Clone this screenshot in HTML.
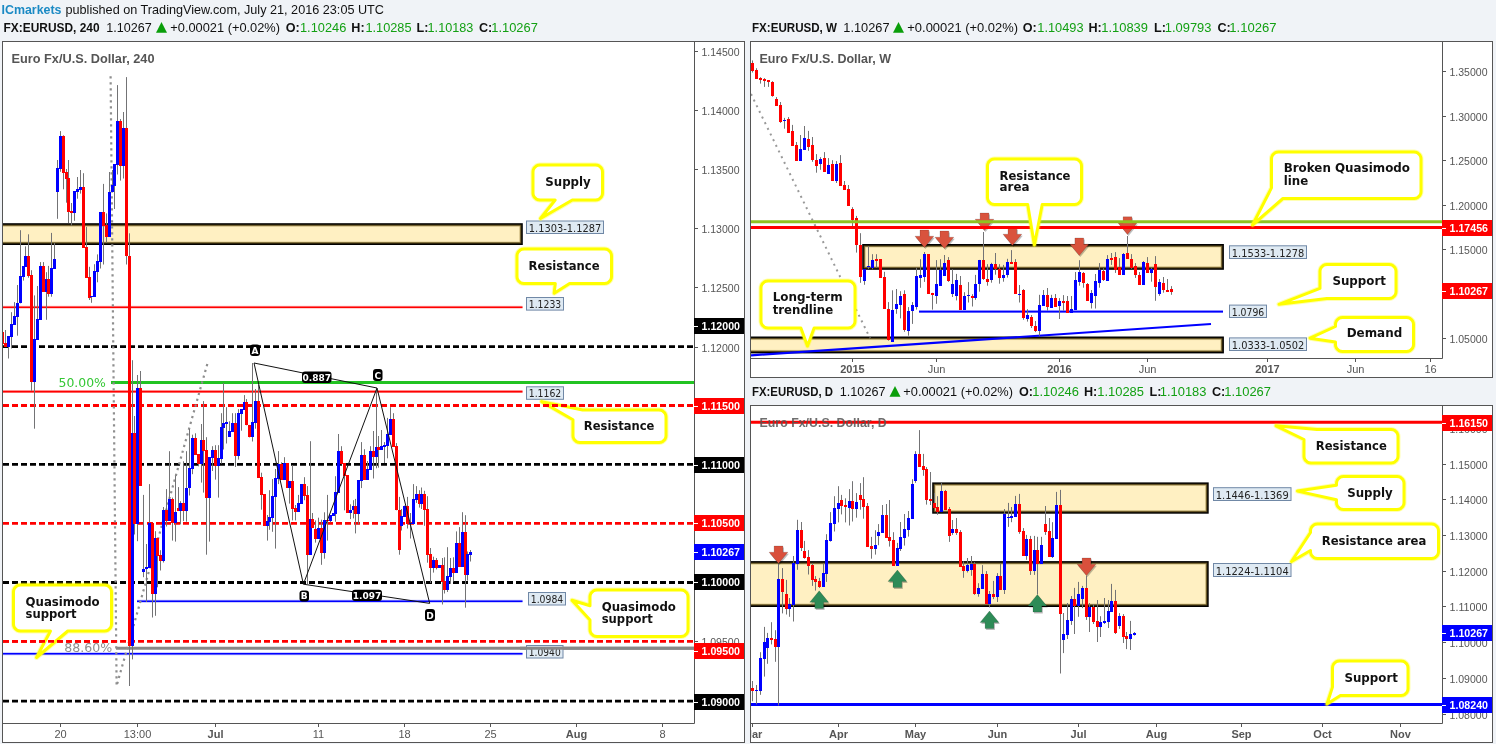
<!DOCTYPE html>
<html lang="en"><head><meta charset="utf-8"><title>EURUSD - ICmarkets published on TradingView.com</title>
<style>html,body{margin:0;padding:0;background:#f0f3f7;overflow:hidden}svg text{white-space:pre}</style></head>
<body>
<svg width="1496" height="744" viewBox="0 0 1496 744" style="display:block">
<rect width="1496" height="744" fill="#f0f3f7"/>
<text x="1.5" y="14" font-size="12.6" fill="#1b8ac4" font-family="'Liberation Sans', sans-serif" font-weight="bold" textLength="60" lengthAdjust="spacingAndGlyphs">ICmarkets</text>
<text x="65.5" y="14" font-size="12.6" fill="#111" font-family="'Liberation Sans', sans-serif" textLength="318.5" lengthAdjust="spacingAndGlyphs">published on TradingView.com, July 21, 2016 23:05 UTC</text>
<text x="3.6" y="32" font-size="12.6" fill="#111" font-family="'Liberation Sans', sans-serif" font-weight="bold" textLength="96.0" lengthAdjust="spacingAndGlyphs">FX:EURUSD, 240</text>
<text x="106.3" y="32" font-size="12.6" fill="#111" font-family="'Liberation Sans', sans-serif" textLength="45.39999999999999" lengthAdjust="spacingAndGlyphs">1.10267</text>
<path d="M156 32.8L161.5 22L167 32.8Z" fill="#0a9e0a"/>
<text x="170.3" y="32" font-size="12.6" fill="#111" font-family="'Liberation Sans', sans-serif" textLength="109.69999999999999" lengthAdjust="spacingAndGlyphs">+0.00021 (+0.02%)</text>
<text x="285.7" y="32" font-size="12.6" fill="#111" font-family="'Liberation Sans', sans-serif" font-weight="bold">O:</text>
<text x="300" y="32" font-size="12.6" fill="#13a013" font-family="'Liberation Sans', sans-serif" textLength="46.30000000000001" lengthAdjust="spacingAndGlyphs">1.10246</text>
<text x="351.3" y="32" font-size="12.6" fill="#111" font-family="'Liberation Sans', sans-serif" font-weight="bold">H:</text>
<text x="365.5" y="32" font-size="12.6" fill="#13a013" font-family="'Liberation Sans', sans-serif" textLength="46.0" lengthAdjust="spacingAndGlyphs">1.10285</text>
<text x="416.5" y="32" font-size="12.6" fill="#111" font-family="'Liberation Sans', sans-serif" font-weight="bold">L:</text>
<text x="427.6" y="32" font-size="12.6" fill="#13a013" font-family="'Liberation Sans', sans-serif" textLength="45.69999999999999" lengthAdjust="spacingAndGlyphs">1.10183</text>
<text x="479" y="32" font-size="12.6" fill="#111" font-family="'Liberation Sans', sans-serif" font-weight="bold">C:</text>
<text x="491.3" y="32" font-size="12.6" fill="#13a013" font-family="'Liberation Sans', sans-serif" textLength="46.49999999999994" lengthAdjust="spacingAndGlyphs">1.10267</text>
<text x="752" y="32" font-size="12.6" fill="#111" font-family="'Liberation Sans', sans-serif" font-weight="bold" textLength="85" lengthAdjust="spacingAndGlyphs">FX:EURUSD, W</text>
<text x="843.3" y="32" font-size="12.6" fill="#111" font-family="'Liberation Sans', sans-serif" textLength="46.200000000000045" lengthAdjust="spacingAndGlyphs">1.10267</text>
<path d="M893 32.8L898.5 22L904 32.8Z" fill="#0a9e0a"/>
<text x="907.3" y="32" font-size="12.6" fill="#111" font-family="'Liberation Sans', sans-serif" textLength="110.70000000000005" lengthAdjust="spacingAndGlyphs">+0.00021 (+0.02%)</text>
<text x="1022.8" y="32" font-size="12.6" fill="#111" font-family="'Liberation Sans', sans-serif" font-weight="bold">O:</text>
<text x="1037.3" y="32" font-size="12.6" fill="#13a013" font-family="'Liberation Sans', sans-serif" textLength="46.200000000000045" lengthAdjust="spacingAndGlyphs">1.10493</text>
<text x="1088.5" y="32" font-size="12.6" fill="#111" font-family="'Liberation Sans', sans-serif" font-weight="bold">H:</text>
<text x="1101.3" y="32" font-size="12.6" fill="#13a013" font-family="'Liberation Sans', sans-serif" textLength="46.700000000000045" lengthAdjust="spacingAndGlyphs">1.10839</text>
<text x="1154" y="32" font-size="12.6" fill="#111" font-family="'Liberation Sans', sans-serif" font-weight="bold">L:</text>
<text x="1164.8" y="32" font-size="12.6" fill="#13a013" font-family="'Liberation Sans', sans-serif" textLength="46.700000000000045" lengthAdjust="spacingAndGlyphs">1.09793</text>
<text x="1217.5" y="32" font-size="12.6" fill="#111" font-family="'Liberation Sans', sans-serif" font-weight="bold">C:</text>
<text x="1229.3" y="32" font-size="12.6" fill="#13a013" font-family="'Liberation Sans', sans-serif" textLength="47.200000000000045" lengthAdjust="spacingAndGlyphs">1.10267</text>
<text x="752" y="396" font-size="12.6" fill="#111" font-family="'Liberation Sans', sans-serif" font-weight="bold" textLength="81" lengthAdjust="spacingAndGlyphs">FX:EURUSD, D</text>
<text x="839.8" y="396" font-size="12.6" fill="#111" font-family="'Liberation Sans', sans-serif" textLength="45.700000000000045" lengthAdjust="spacingAndGlyphs">1.10267</text>
<path d="M889.5 396.8L895.0 386L900.5 396.8Z" fill="#0a9e0a"/>
<text x="903.3" y="396" font-size="12.6" fill="#111" font-family="'Liberation Sans', sans-serif" textLength="109.70000000000005" lengthAdjust="spacingAndGlyphs">+0.00021 (+0.02%)</text>
<text x="1019" y="396" font-size="12.6" fill="#111" font-family="'Liberation Sans', sans-serif" font-weight="bold">O:</text>
<text x="1032.3" y="396" font-size="12.6" fill="#13a013" font-family="'Liberation Sans', sans-serif" textLength="46.700000000000045" lengthAdjust="spacingAndGlyphs">1.10246</text>
<text x="1084" y="396" font-size="12.6" fill="#111" font-family="'Liberation Sans', sans-serif" font-weight="bold">H:</text>
<text x="1097.3" y="396" font-size="12.6" fill="#13a013" font-family="'Liberation Sans', sans-serif" textLength="46.700000000000045" lengthAdjust="spacingAndGlyphs">1.10285</text>
<text x="1149.5" y="396" font-size="12.6" fill="#111" font-family="'Liberation Sans', sans-serif" font-weight="bold">L:</text>
<text x="1159.8" y="396" font-size="12.6" fill="#13a013" font-family="'Liberation Sans', sans-serif" textLength="46.700000000000045" lengthAdjust="spacingAndGlyphs">1.10183</text>
<text x="1212" y="396" font-size="12.6" fill="#111" font-family="'Liberation Sans', sans-serif" font-weight="bold">C:</text>
<text x="1224.3" y="396" font-size="12.6" fill="#13a013" font-family="'Liberation Sans', sans-serif" textLength="46.700000000000045" lengthAdjust="spacingAndGlyphs">1.10267</text>
<rect x="2.5" y="41.5" width="742" height="701" fill="#fff" stroke="#555555"/>
<clipPath id="cl"><rect x="3" y="42" width="691" height="681"/></clipPath>
<g clip-path="url(#cl)">
<text x="11.5" y="63" font-size="12.6" fill="#555" font-family="'Liberation Sans', sans-serif" font-weight="bold" textLength="143" lengthAdjust="spacingAndGlyphs">Euro Fx/U.S. Dollar, 240</text>
<rect x="-3" y="223.2" width="525.8" height="21.80000000000001" fill="#000"/>
<rect x="-1.6" y="224.6" width="523.0" height="19.00000000000001" fill="#4a3a12"/>
<rect x="-0.7000000000000002" y="225.5" width="521.1999999999999" height="17.20000000000001" fill="#9c8a52"/>
<rect x="0.0" y="226.2" width="519.8" height="15.800000000000011" fill="#e4d39b"/>
<rect x="0.6000000000000001" y="226.79999999999998" width="518.5999999999999" height="14.600000000000012" fill="#fff0c2"/>
<path d="M3 307.2H522.5" stroke="#ff0000" stroke-width="1.6" fill="none"/>
<path d="M3 307.2H522.5" stroke="#ff0000" stroke-width="3" fill="none" stroke-opacity="0.25"/>
<path d="M3 391.6H522.5" stroke="#ff0000" stroke-width="1.6" fill="none"/>
<path d="M3 391.6H522.5" stroke="#ff0000" stroke-width="3" fill="none" stroke-opacity="0.25"/>
<path d="M111 382.5H694" stroke="#22c322" stroke-width="3" fill="none"/>
<path d="M137 601.3H522.5" stroke="#0000ff" stroke-width="1.6" fill="none"/>
<path d="M137 601.3H522.5" stroke="#0000ff" stroke-width="3" fill="none" stroke-opacity="0.25"/>
<path d="M3 653.8H522.5" stroke="#0000ff" stroke-width="1.6" fill="none"/>
<path d="M3 653.8H522.5" stroke="#0000ff" stroke-width="3" fill="none" stroke-opacity="0.25"/>
<path d="M116 648.2H694" stroke="#888" stroke-width="3" fill="none"/>
<path d="M3 346.6H694" stroke="#000" stroke-width="2.8" fill="none" stroke-dasharray="6 3"/>
<path d="M3 464.4H694" stroke="#000" stroke-width="2.8" fill="none" stroke-dasharray="6 3"/>
<path d="M3 582.5H694" stroke="#000" stroke-width="2.8" fill="none" stroke-dasharray="6 3"/>
<path d="M3 701.1H694" stroke="#000" stroke-width="2.8" fill="none" stroke-dasharray="6 3"/>
<path d="M3 405.5H694" stroke="#ff0000" stroke-width="2.8" fill="none" stroke-dasharray="6 3"/>
<path d="M3 523.4H694" stroke="#ff0000" stroke-width="2.8" fill="none" stroke-dasharray="6 3"/>
<path d="M3 641.3H694" stroke="#ff0000" stroke-width="2.8" fill="none" stroke-dasharray="6 3"/>
<path d="M110.6 76.3L116.6 686L208.3 360.5" stroke="#8e8e8e" stroke-width="2.2" stroke-dasharray="2.2 3.8" fill="none"/>
<path d="M2.5 332V343.5M5.5 330V347.1M8.5 336.1V358.5M11.5 312.2V348.5M14.5 302.1V325M17.5 285V335.7M20.5 230.2V303.4M23.5 266.1V280.6M25.5 246.4V266.8M28.5 234.3V277.7M31.5 270.2V390.8M34.5 295.4V428.7M37.5 286V339.7M40.5 262.1V319.8M43.5 262.1V291.8M46.5 272.2V319.8M48.5 265.9V296.7M51.5 232.9V296.7M54.5 243V268.5M57.5 160V218.8M60.5 131.1V171.8M63.5 135.3V189.3M66.5 169V202.7M68.5 160V223.1M71.5 203V225.5M74.5 191V220.8M77.5 177V198.7M80.5 170V193.6M83.5 173.2V247.7M86.5 226.9V277.7M89.5 266.8V300M91.5 296V302.8M94.5 264.2V296.7M97.5 254.4V282.3M100.5 212.1V268.5M103.5 183.9V264.5M106.5 213.4V242.7M109.5 172V236.6M112.5 170V192.3M114.5 164.2V209M117.5 85.1V174.5M120.5 119.1V180.6M123.5 112V178.5M126.5 77.1V264.5M129.5 233.3V686M132.5 360.2V659.4M134.5 416V534.5M137.5 375V541.2M140.5 371V485.5M143.5 494.9V577.2M146.5 544V602M149.5 484.1V568.1M152.5 523.1V617.5M155.5 531.2V615.8M157.5 538.1V587.3M160.5 550.2V570.5M163.5 507V562.5M166.5 489.1V526.5M169.5 451.2V520.8M172.5 497.6V540.6M175.5 475.4V541.6M178.5 487.1V510.7M180.5 501.2V524.4M183.5 461.3V521.1M186.5 451.2V521.7M189.5 429V495.5M192.5 434.7V474.2M195.5 433.3V454.8M198.5 454.2V466.3M201.5 424V482.6M203.5 401.1V492.6M206.5 437.2V554.7M209.5 457.2V541.6M212.5 446.2V471M215.5 445.2V479.6M218.5 445.2V497.6M221.5 413.2V463.6M223.5 383V449.5M226.5 407.2V443.5M229.5 421.3V436.7M232.5 413.2V432M235.5 413.2V467M238.5 409.2V459.6M241.5 409.2V430.7M244.5 395.1V409.9M246.5 399.1V425.3M249.5 424.9V437.4M252.5 363V441.5M255.5 389V428.7M258.5 384.8V477.7M261.5 472.7V509.7M264.5 494.2V525.8M267.5 515V540.6M269.5 490.2V529.8M272.5 479.1V531.8M275.5 469V548.6M278.5 451.1V484.1M281.5 462.3V479.8M284.5 457.2V479.8M287.5 463V487.6M289.5 481.2V503.6M292.5 465V520.4M295.5 505V520.4M298.5 494.9V511.7M301.5 484.1V503.6M304.5 477.2V500.2M307.5 486.1V584M310.5 441.2V554.9M312.5 513V527.8M315.5 520.4V542.6M318.5 517.7V538.5M321.5 519.7V564.8M324.5 512.3V558.7M327.5 494.9V540.6M330.5 515V522.4M333.5 513V515.7M335.5 476.2V521.7M338.5 434V492.6M341.5 446.2V464.3M344.5 463.4V510.3M347.5 475.1V512.7M350.5 504.3V519.1M353.5 500.2V518.4M355.5 498.9V533.4M358.5 480.1V524.4M361.5 442.1V488.1M364.5 449.2V479.8M367.5 461V479.8M370.5 446.2V469.7M373.5 431V478.5M376.5 389V468.3M378.5 436V467.7M381.5 430V449.8M384.5 442.1V463M387.5 417.9V458.3M390.5 407.2V434.7M393.5 413.2V446.8M396.5 443.1V510.3M399.5 496.9V554.7M401.5 509V530.5M404.5 505.6V516.8M407.5 496.9V528.5M410.5 513V538.5M413.5 484.1V524.2M416.5 486.1V502.9M419.5 490.2V507.6M421.5 487.5V509M424.5 490.8V525.8M427.5 496.2V562.7M430.5 548V583M433.5 556.7V572.6M436.5 558V569.4M439.5 565.3V567.7M442.5 558V604.5M444.5 557.3V593.5M447.5 547.2V592M450.5 558V583.9M453.5 557.3V581.5M456.5 531.4V572.6M459.5 527.1V566.5M462.5 512.2V566.5M465.5 515.2V607.7M467.5 551.5V580.6M470.5 550V561.5" stroke="#737375" stroke-width="1" fill="none"/>
<path d="M1 332h3V343.5h-3ZM4 343.1h3V347.1h-3Z" fill="#ff0000" shape-rendering="crispEdges"/>
<path d="M7 336.1h3V347.1h-3ZM10 324.3h3V336.8h-3ZM13 316.2h3V325h-3ZM16 303h3V316.9h-3ZM19 276.2h3V303.4h-3ZM22 266.1h3V276.9h-3ZM24 256.2h3V266.8h-3Z" fill="#0000ff" shape-rendering="crispEdges"/>
<path d="M27 256.2h3V276h-3ZM30 275.3h3V381.8h-3Z" fill="#ff0000" shape-rendering="crispEdges"/>
<path d="M33 339.1h3V381.8h-3ZM36 319.3h3V339.7h-3ZM39 266.1h3V319.8h-3Z" fill="#0000ff" shape-rendering="crispEdges"/>
<path d="M42 266.1h3V291.8h-3Z" fill="#ff0000" shape-rendering="crispEdges"/>
<path d="M45 279h3V291.8h-3Z" fill="#0000ff" shape-rendering="crispEdges"/>
<path d="M47 279h3V293.7h-3Z" fill="#ff0000" shape-rendering="crispEdges"/>
<path d="M50 268.1h3V293.7h-3ZM53 259.1h3V268.5h-3ZM56 168.1h3V191.7h-3ZM59 136.2h3V168.7h-3Z" fill="#0000ff" shape-rendering="crispEdges"/>
<path d="M62 136.2h3V172.5h-3ZM65 172.1h3V178.5h-3ZM67 178.1h3V211.8h-3ZM70 210.8h3V212.8h-3Z" fill="#ff0000" shape-rendering="crispEdges"/>
<path d="M73 191h3V212.8h-3ZM76 189.3h3V191.7h-3ZM79 187h3V189.6h-3Z" fill="#0000ff" shape-rendering="crispEdges"/>
<path d="M82 187h3V247.7h-3ZM85 247h3V277.7h-3ZM88 277h3V297.7h-3Z" fill="#ff0000" shape-rendering="crispEdges"/>
<path d="M90 296h3V297.4h-3ZM93 271.1h3V296.7h-3ZM96 261.2h3V271.6h-3ZM99 212.1h3V261.8h-3Z" fill="#0000ff" shape-rendering="crispEdges"/>
<path d="M102 212.1h3V225.5h-3ZM105 224.9h3V236.6h-3Z" fill="#ff0000" shape-rendering="crispEdges"/>
<path d="M108 192h3V236.6h-3ZM111 185.3h3V192.3h-3ZM113 164.2h3V186h-3ZM116 121.2h3V164.8h-3Z" fill="#0000ff" shape-rendering="crispEdges"/>
<path d="M119 121.2h3V165.8h-3Z" fill="#ff0000" shape-rendering="crispEdges"/>
<path d="M122 127.9h3V165.8h-3Z" fill="#0000ff" shape-rendering="crispEdges"/>
<path d="M125 127.9h3V255.5h-3ZM128 255.5h3V645.7h-3Z" fill="#ff0000" shape-rendering="crispEdges"/>
<path d="M131 433.1h3V645.7h-3Z" fill="#0000ff" shape-rendering="crispEdges"/>
<path d="M133 433.1h3V523.8h-3Z" fill="#ff0000" shape-rendering="crispEdges"/>
<path d="M136 388.1h3V523.8h-3Z" fill="#0000ff" shape-rendering="crispEdges"/>
<path d="M139 388.1h3V485.5h-3Z" fill="#ff0000" shape-rendering="crispEdges"/>
<path d="M142 569.1h3V571.8h-3ZM145 567.4h3V569.1h-3ZM148 523.1h3V568.1h-3Z" fill="#0000ff" shape-rendering="crispEdges"/>
<path d="M151 523.1h3V594h-3Z" fill="#ff0000" shape-rendering="crispEdges"/>
<path d="M154 538.1h3V594h-3Z" fill="#0000ff" shape-rendering="crispEdges"/>
<path d="M156 538.1h3V555.6h-3ZM159 555.1h3V560.7h-3Z" fill="#ff0000" shape-rendering="crispEdges"/>
<path d="M162 510.1h3V560.7h-3Z" fill="#0000ff" shape-rendering="crispEdges"/>
<path d="M165 510.1h3V520.8h-3Z" fill="#ff0000" shape-rendering="crispEdges"/>
<path d="M168 499.2h3V520.8h-3Z" fill="#0000ff" shape-rendering="crispEdges"/>
<path d="M171 499.2h3V522.8h-3Z" fill="#ff0000" shape-rendering="crispEdges"/>
<path d="M174 511.7h3V522.8h-3Z" fill="#0000ff" shape-rendering="crispEdges"/>
<path d="M177 508.3h3V510.7h-3Z" fill="#ff0000" shape-rendering="crispEdges"/>
<path d="M179 503.2h3V510.7h-3Z" fill="#0000ff" shape-rendering="crispEdges"/>
<path d="M182 503.2h3V510.7h-3Z" fill="#ff0000" shape-rendering="crispEdges"/>
<path d="M185 487.5h3V510.7h-3ZM188 468h3V487.7h-3ZM191 438.1h3V468.5h-3Z" fill="#0000ff" shape-rendering="crispEdges"/>
<path d="M194 438.1h3V454.8h-3ZM197 454.2h3V463.8h-3Z" fill="#ff0000" shape-rendering="crispEdges"/>
<path d="M200 440.1h3V463.6h-3Z" fill="#0000ff" shape-rendering="crispEdges"/>
<path d="M202 440.1h3V450.9h-3ZM205 450.2h3V497.8h-3Z" fill="#ff0000" shape-rendering="crispEdges"/>
<path d="M208 457.2h3V497.8h-3ZM211 450.2h3V457.9h-3Z" fill="#0000ff" shape-rendering="crispEdges"/>
<path d="M214 450.2h3V465.6h-3Z" fill="#ff0000" shape-rendering="crispEdges"/>
<path d="M217 458.3h3V465.6h-3ZM220 427.1h3V458.7h-3ZM222 423.3h3V427.7h-3ZM225 422.2h3V424h-3ZM228 431.4h3V436.7h-3ZM231 423.3h3V432h-3Z" fill="#0000ff" shape-rendering="crispEdges"/>
<path d="M234 423.3h3V455.6h-3Z" fill="#ff0000" shape-rendering="crispEdges"/>
<path d="M237 413.2h3V455.6h-3ZM240 409.2h3V413.6h-3ZM243 402.1h3V409.9h-3Z" fill="#0000ff" shape-rendering="crispEdges"/>
<path d="M245 402.1h3V425.3h-3ZM248 424.9h3V437.4h-3Z" fill="#ff0000" shape-rendering="crispEdges"/>
<path d="M251 422.2h3V437.4h-3ZM254 401.1h3V422.6h-3Z" fill="#0000ff" shape-rendering="crispEdges"/>
<path d="M257 401.1h3V477.7h-3ZM260 477.1h3V494.6h-3ZM263 494.2h3V525.8h-3Z" fill="#ff0000" shape-rendering="crispEdges"/>
<path d="M266 521.1h3V525.8h-3ZM268 517h3V521.7h-3ZM271 496.2h3V517.7h-3ZM274 478.1h3V496.9h-3ZM277 463.9h3V479.1h-3Z" fill="#0000ff" shape-rendering="crispEdges"/>
<path d="M280 463.9h3V479.8h-3Z" fill="#ff0000" shape-rendering="crispEdges"/>
<path d="M283 463h3V479.8h-3Z" fill="#0000ff" shape-rendering="crispEdges"/>
<path d="M286 463h3V487.6h-3Z" fill="#ff0000" shape-rendering="crispEdges"/>
<path d="M288 481.2h3V487.6h-3Z" fill="#0000ff" shape-rendering="crispEdges"/>
<path d="M291 481.2h3V509h-3ZM294 508.3h3V511.7h-3Z" fill="#ff0000" shape-rendering="crispEdges"/>
<path d="M297 503h3V511.7h-3ZM300 484.1h3V503.6h-3Z" fill="#0000ff" shape-rendering="crispEdges"/>
<path d="M303 484.1h3V495.5h-3ZM306 495.1h3V554.9h-3Z" fill="#ff0000" shape-rendering="crispEdges"/>
<path d="M309 519.1h3V554.9h-3Z" fill="#0000ff" shape-rendering="crispEdges"/>
<path d="M311 519.1h3V527.8h-3ZM314 528.7h3V538.5h-3Z" fill="#ff0000" shape-rendering="crispEdges"/>
<path d="M317 528.1h3V538.5h-3Z" fill="#0000ff" shape-rendering="crispEdges"/>
<path d="M320 528.1h3V552.7h-3Z" fill="#ff0000" shape-rendering="crispEdges"/>
<path d="M323 520h3V552.7h-3Z" fill="#0000ff" shape-rendering="crispEdges"/>
<path d="M326 520h3V521.4h-3Z" fill="#ff0000" shape-rendering="crispEdges"/>
<path d="M329 515h3V521.1h-3ZM332 513h3V515.7h-3ZM334 492.2h3V514.1h-3ZM337 450.9h3V492.6h-3Z" fill="#0000ff" shape-rendering="crispEdges"/>
<path d="M340 450.9h3V464.3h-3ZM343 463.4h3V475.6h-3ZM346 475.1h3V512.7h-3Z" fill="#ff0000" shape-rendering="crispEdges"/>
<path d="M349 509.9h3V512.7h-3ZM352 506h3V510.3h-3Z" fill="#0000ff" shape-rendering="crispEdges"/>
<path d="M354 506h3V513.7h-3Z" fill="#ff0000" shape-rendering="crispEdges"/>
<path d="M357 480.1h3V513.7h-3ZM360 454.9h3V480.5h-3Z" fill="#0000ff" shape-rendering="crispEdges"/>
<path d="M363 454.9h3V479.8h-3Z" fill="#ff0000" shape-rendering="crispEdges"/>
<path d="M366 469h3V479.8h-3ZM369 450.9h3V469.7h-3Z" fill="#0000ff" shape-rendering="crispEdges"/>
<path d="M372 450.9h3V456.9h-3Z" fill="#ff0000" shape-rendering="crispEdges"/>
<path d="M375 447.1h3V456.9h-3Z" fill="#0000ff" shape-rendering="crispEdges"/>
<path d="M377 447.1h3V449.8h-3Z" fill="#ff0000" shape-rendering="crispEdges"/>
<path d="M380 446.2h3V449.8h-3ZM383 444.8h3V447.1h-3ZM386 434.1h3V445.8h-3ZM389 419.3h3V434.7h-3Z" fill="#0000ff" shape-rendering="crispEdges"/>
<path d="M392 419.3h3V446.8h-3ZM395 446.2h3V510.3h-3ZM398 510.3h3V550h-3Z" fill="#ff0000" shape-rendering="crispEdges"/>
<path d="M400 516.1h3V525.8h-3ZM403 506h3V516.8h-3Z" fill="#0000ff" shape-rendering="crispEdges"/>
<path d="M406 506h3V523.8h-3Z" fill="#ff0000" shape-rendering="crispEdges"/>
<path d="M409 522.8h3V524.2h-3ZM412 499.2h3V524.2h-3ZM415 494.2h3V499.8h-3Z" fill="#0000ff" shape-rendering="crispEdges"/>
<path d="M418 494.2h3V503.6h-3Z" fill="#ff0000" shape-rendering="crispEdges"/>
<path d="M420 494.2h3V503.6h-3Z" fill="#0000ff" shape-rendering="crispEdges"/>
<path d="M423 494.2h3V509.7h-3ZM426 509h3V554.7h-3ZM429 554h3V567.6h-3Z" fill="#ff0000" shape-rendering="crispEdges"/>
<path d="M432 560.3h3V567.6h-3Z" fill="#0000ff" shape-rendering="crispEdges"/>
<path d="M435 560.3h3V567.7h-3Z" fill="#ff0000" shape-rendering="crispEdges"/>
<path d="M438 565.3h3V567.7h-3Z" fill="#0000ff" shape-rendering="crispEdges"/>
<path d="M441 565.3h3V581.5h-3ZM443 580.6h3V589.5h-3Z" fill="#ff0000" shape-rendering="crispEdges"/>
<path d="M446 576.1h3V589.5h-3ZM449 568.1h3V576.6h-3Z" fill="#0000ff" shape-rendering="crispEdges"/>
<path d="M452 568.1h3V572.6h-3Z" fill="#ff0000" shape-rendering="crispEdges"/>
<path d="M455 542.9h3V572.6h-3Z" fill="#0000ff" shape-rendering="crispEdges"/>
<path d="M458 542.9h3V566.5h-3Z" fill="#ff0000" shape-rendering="crispEdges"/>
<path d="M461 532h3V566.5h-3Z" fill="#0000ff" shape-rendering="crispEdges"/>
<path d="M464 532h3V575h-3Z" fill="#ff0000" shape-rendering="crispEdges"/>
<path d="M466 554.1h3V575h-3ZM469 552.1h3V554.9h-3Z" fill="#0000ff" shape-rendering="crispEdges"/>
<text x="58.5" y="386.6" font-size="12" fill="#35c735" font-family="'DejaVu Sans', 'Liberation Sans', sans-serif" textLength="47.4" lengthAdjust="spacingAndGlyphs">50.00%</text>
<text x="64.3" y="652.2" font-size="12" fill="#8f8f8f" font-family="'DejaVu Sans', 'Liberation Sans', sans-serif" textLength="48" lengthAdjust="spacingAndGlyphs">88.60%</text>
<path d="M254 363L303.4 584.2L377 388L429.7 603.4M254 363L377 388M303.4 584.2L429.7 603.4" stroke="#111" stroke-width="1" fill="none"/>
<rect x="250" y="344.5" width="10" height="11.5" rx="3" fill="#000"/>
<text x="255.0" y="353.7" font-size="9" fill="#fff" font-family="'DejaVu Sans', 'Liberation Sans', sans-serif" font-weight="bold" text-anchor="middle">A</text>
<rect x="373" y="369" width="9.5" height="12" rx="3" fill="#000"/>
<text x="377.75" y="378.7" font-size="9" fill="#fff" font-family="'DejaVu Sans', 'Liberation Sans', sans-serif" font-weight="bold" text-anchor="middle">C</text>
<rect x="299.5" y="590.5" width="9.5" height="11.0" rx="3" fill="#000"/>
<text x="304.25" y="599.2" font-size="9" fill="#fff" font-family="'DejaVu Sans', 'Liberation Sans', sans-serif" font-weight="bold" text-anchor="middle">B</text>
<rect x="425" y="609" width="10" height="12" rx="3" fill="#000"/>
<text x="430.0" y="618.7" font-size="9" fill="#fff" font-family="'DejaVu Sans', 'Liberation Sans', sans-serif" font-weight="bold" text-anchor="middle">D</text>
<rect x="302" y="371.5" width="29.5" height="11.5" rx="3" fill="#000"/>
<text x="316.75" y="380.7" font-size="9" fill="#fff" font-family="'DejaVu Sans', 'Liberation Sans', sans-serif" font-weight="bold" text-anchor="middle">0.887</text>
<rect x="352" y="589.7" width="30" height="11.299999999999955" rx="3" fill="#000"/>
<text x="367.0" y="598.7" font-size="9" fill="#fff" font-family="'DejaVu Sans', 'Liberation Sans', sans-serif" font-weight="bold" text-anchor="middle">1.097</text>
</g>
<rect x="526.5" y="221.0" width="77" height="12.5" fill="#dfeaf3" stroke="#7088a6"/>
<text x="565.0" y="231.6" font-size="9.6" fill="#222" font-family="'DejaVu Sans', 'Liberation Sans', sans-serif" text-anchor="middle" textLength="72.5" lengthAdjust="spacingAndGlyphs">1.1303-1.1287</text>
<rect x="526.5" y="297.5" width="37" height="12.600000000000023" fill="#dfeaf3" stroke="#7088a6"/>
<text x="545.0" y="308.20000000000005" font-size="9.6" fill="#222" font-family="'DejaVu Sans', 'Liberation Sans', sans-serif" text-anchor="middle" textLength="32.5" lengthAdjust="spacingAndGlyphs">1.1233</text>
<rect x="526.5" y="386.8" width="37" height="12.5" fill="#dfeaf3" stroke="#7088a6"/>
<text x="545.0" y="397.40000000000003" font-size="9.6" fill="#222" font-family="'DejaVu Sans', 'Liberation Sans', sans-serif" text-anchor="middle" textLength="32.5" lengthAdjust="spacingAndGlyphs">1.1162</text>
<rect x="528.5" y="592.5" width="37" height="12.5" fill="#dfeaf3" stroke="#7088a6"/>
<text x="547.0" y="603.1" font-size="9.6" fill="#222" font-family="'DejaVu Sans', 'Liberation Sans', sans-serif" text-anchor="middle" textLength="32.5" lengthAdjust="spacingAndGlyphs">1.0984</text>
<rect x="526.5" y="645.5" width="36.5" height="12.5" fill="#dfeaf3" stroke="#7088a6"/>
<text x="544.75" y="656.1" font-size="9.6" fill="#222" font-family="'DejaVu Sans', 'Liberation Sans', sans-serif" text-anchor="middle" textLength="32.0" lengthAdjust="spacingAndGlyphs">1.0940</text>
<path d="M520 648.2H694" stroke="#888" stroke-width="3" fill="none"/>
<path d="M540 165L538.2 165.2L536.5 165.9L535.1 167.1L533.9 168.5L533.2 170.2L533 172L533 193L533.2 194.8L533.9 196.5L535.1 197.9L536.5 199.1L538.2 199.8L540 200L555.2 200L540.5 218.5L572.3 200L595.5 200L597.3 199.8L599 199.1L600.4 197.9L601.6 196.5L602.3 194.8L602.5 193L602.5 172L602.3 170.2L601.6 168.5L600.4 167.1L599 165.9L597.3 165.2L595.5 165Z" fill="none" stroke="#ffff00" stroke-width="5" stroke-linejoin="round" stroke-opacity="0.3"/>
<path d="M540 165L538.2 165.2L536.5 165.9L535.1 167.1L533.9 168.5L533.2 170.2L533 172L533 193L533.2 194.8L533.9 196.5L535.1 197.9L536.5 199.1L538.2 199.8L540 200L555.2 200L540.5 218.5L572.3 200L595.5 200L597.3 199.8L599 199.1L600.4 197.9L601.6 196.5L602.3 194.8L602.5 193L602.5 172L602.3 170.2L601.6 168.5L600.4 167.1L599 165.9L597.3 165.2L595.5 165Z" fill="#fff" stroke="#ffff00" stroke-width="3" stroke-linejoin="round"/>
<text x="545.3" y="186" font-size="12.5" fill="#111" font-family="'DejaVu Sans', 'Liberation Sans', sans-serif" font-weight="bold" textLength="45.5" lengthAdjust="spacingAndGlyphs">Supply</text>
<path d="M524 249L522.2 249.2L520.5 249.9L519.1 251.1L517.9 252.5L517.2 254.2L517 256L517 276.5L517.2 278.3L517.9 280L519.1 281.4L520.5 282.6L522.2 283.3L524 283.5L555.3 283.5L554.2 293.2L569.6 283.5L604.5 283.5L606.3 283.3L608 282.6L609.4 281.4L610.6 280L611.3 278.3L611.5 276.5L611.5 256L611.3 254.2L610.6 252.5L609.4 251.1L608 249.9L606.3 249.2L604.5 249Z" fill="none" stroke="#ffff00" stroke-width="5" stroke-linejoin="round" stroke-opacity="0.3"/>
<path d="M524 249L522.2 249.2L520.5 249.9L519.1 251.1L517.9 252.5L517.2 254.2L517 256L517 276.5L517.2 278.3L517.9 280L519.1 281.4L520.5 282.6L522.2 283.3L524 283.5L555.3 283.5L554.2 293.2L569.6 283.5L604.5 283.5L606.3 283.3L608 282.6L609.4 281.4L610.6 280L611.3 278.3L611.5 276.5L611.5 256L611.3 254.2L610.6 252.5L609.4 251.1L608 249.9L606.3 249.2L604.5 249Z" fill="#fff" stroke="#ffff00" stroke-width="3" stroke-linejoin="round"/>
<text x="528.6" y="269.6" font-size="12.5" fill="#111" font-family="'DejaVu Sans', 'Liberation Sans', sans-serif" font-weight="bold" textLength="71" lengthAdjust="spacingAndGlyphs">Resistance</text>
<path d="M582.6 410L541.6 401.6L573 419.7L573 435.5L573.2 437.3L573.9 439L575.1 440.4L576.5 441.6L578.2 442.3L580 442.5L659 442.5L660.8 442.3L662.5 441.6L663.9 440.4L665.1 439L665.8 437.3L666 435.5L666 417L665.8 415.2L665.1 413.5L663.9 412.1L662.5 410.9L660.8 410.2L659 410Z" fill="none" stroke="#ffff00" stroke-width="5" stroke-linejoin="round" stroke-opacity="0.3"/>
<path d="M582.6 410L541.6 401.6L573 419.7L573 435.5L573.2 437.3L573.9 439L575.1 440.4L576.5 441.6L578.2 442.3L580 442.5L659 442.5L660.8 442.3L662.5 441.6L663.9 440.4L665.1 439L665.8 437.3L666 435.5L666 417L665.8 415.2L665.1 413.5L663.9 412.1L662.5 410.9L660.8 410.2L659 410Z" fill="#fff" stroke="#ffff00" stroke-width="3" stroke-linejoin="round"/>
<text x="583.8" y="429.7" font-size="12.5" fill="#111" font-family="'DejaVu Sans', 'Liberation Sans', sans-serif" font-weight="bold" textLength="70.6" lengthAdjust="spacingAndGlyphs">Resistance</text>
<path d="M534 405.5H606" stroke="#ff0000" stroke-width="2.8" fill="none" stroke-dasharray="6 3"/>
<path d="M597 590L595.2 590.2L593.5 590.9L592.1 592.1L590.9 593.5L590.2 595.2L590 597L590 605.7L572 600.2L590 619.9L590 629.5L590.2 631.3L590.9 633L592.1 634.4L593.5 635.6L595.2 636.3L597 636.5L681 636.5L682.8 636.3L684.5 635.6L685.9 634.4L687.1 633L687.8 631.3L688 629.5L688 597L687.8 595.2L687.1 593.5L685.9 592.1L684.5 590.9L682.8 590.2L681 590Z" fill="none" stroke="#ffff00" stroke-width="5" stroke-linejoin="round" stroke-opacity="0.3"/>
<path d="M597 590L595.2 590.2L593.5 590.9L592.1 592.1L590.9 593.5L590.2 595.2L590 597L590 605.7L572 600.2L590 619.9L590 629.5L590.2 631.3L590.9 633L592.1 634.4L593.5 635.6L595.2 636.3L597 636.5L681 636.5L682.8 636.3L684.5 635.6L685.9 634.4L687.1 633L687.8 631.3L688 629.5L688 597L687.8 595.2L687.1 593.5L685.9 592.1L684.5 590.9L682.8 590.2L681 590Z" fill="#fff" stroke="#ffff00" stroke-width="3" stroke-linejoin="round"/>
<text x="601.7" y="610.8" font-size="12.5" fill="#111" font-family="'DejaVu Sans', 'Liberation Sans', sans-serif" font-weight="bold" textLength="74.2" lengthAdjust="spacingAndGlyphs">Quasimodo</text>
<text x="601.7" y="622.6" font-size="12.5" fill="#111" font-family="'DejaVu Sans', 'Liberation Sans', sans-serif" font-weight="bold" textLength="51" lengthAdjust="spacingAndGlyphs">support</text>
<path d="M20.5 585L18.7 585.2L17 585.9L15.6 587.1L14.4 588.5L13.7 590.2L13.5 592L13.5 624L13.7 625.8L14.4 627.5L15.6 628.9L17 630.1L18.7 630.8L20.5 631L50.5 631L36.5 657.5L67.8 631L104.5 631L106.3 630.8L108 630.1L109.4 628.9L110.6 627.5L111.3 625.8L111.5 624L111.5 592L111.3 590.2L110.6 588.5L109.4 587.1L108 585.9L106.3 585.2L104.5 585Z" fill="none" stroke="#ffff00" stroke-width="5" stroke-linejoin="round" stroke-opacity="0.3"/>
<path d="M20.5 585L18.7 585.2L17 585.9L15.6 587.1L14.4 588.5L13.7 590.2L13.5 592L13.5 624L13.7 625.8L14.4 627.5L15.6 628.9L17 630.1L18.7 630.8L20.5 631L50.5 631L36.5 657.5L67.8 631L104.5 631L106.3 630.8L108 630.1L109.4 628.9L110.6 627.5L111.3 625.8L111.5 624L111.5 592L111.3 590.2L110.6 588.5L109.4 587.1L108 585.9L106.3 585.2L104.5 585Z" fill="#fff" stroke="#ffff00" stroke-width="3" stroke-linejoin="round"/>
<text x="25.5" y="605.6" font-size="12.5" fill="#111" font-family="'DejaVu Sans', 'Liberation Sans', sans-serif" font-weight="bold" textLength="74.2" lengthAdjust="spacingAndGlyphs">Quasimodo</text>
<text x="25.5" y="617.7" font-size="12.5" fill="#111" font-family="'DejaVu Sans', 'Liberation Sans', sans-serif" font-weight="bold" textLength="51" lengthAdjust="spacingAndGlyphs">support</text>
<path d="M3 641.3H120" stroke="#ff0000" stroke-width="2.8" fill="none" stroke-dasharray="6 3"/>
<rect x="695" y="42" width="49" height="700" fill="#fff"/>
<rect x="3" y="724" width="741" height="18" fill="#fff"/>
<path d="M694.5 42V723.5H3" fill="none" stroke="#555555"/>
<path d="M695 51.5h3" stroke="#555555"/>
<text x="701.5" y="55.5" font-size="11" fill="#555" font-family="'Liberation Sans', sans-serif" textLength="38" lengthAdjust="spacingAndGlyphs">1.14500</text>
<path d="M695 110.5h3" stroke="#555555"/>
<text x="701.5" y="114.5" font-size="11" fill="#555" font-family="'Liberation Sans', sans-serif" textLength="38" lengthAdjust="spacingAndGlyphs">1.14000</text>
<path d="M695 169.5h3" stroke="#555555"/>
<text x="701.5" y="173.5" font-size="11" fill="#555" font-family="'Liberation Sans', sans-serif" textLength="38" lengthAdjust="spacingAndGlyphs">1.13500</text>
<path d="M695 228.5h3" stroke="#555555"/>
<text x="701.5" y="232.5" font-size="11" fill="#555" font-family="'Liberation Sans', sans-serif" textLength="38" lengthAdjust="spacingAndGlyphs">1.13000</text>
<path d="M695 287.5h3" stroke="#555555"/>
<text x="701.5" y="291.5" font-size="11" fill="#555" font-family="'Liberation Sans', sans-serif" textLength="38" lengthAdjust="spacingAndGlyphs">1.12500</text>
<path d="M695 347.5h3" stroke="#555555"/>
<text x="701.5" y="351.5" font-size="11" fill="#555" font-family="'Liberation Sans', sans-serif" textLength="38" lengthAdjust="spacingAndGlyphs">1.12000</text>
<path d="M695 641.5h3" stroke="#555555"/>
<text x="701.5" y="645.5" font-size="11" fill="#555" font-family="'Liberation Sans', sans-serif" textLength="38" lengthAdjust="spacingAndGlyphs">1.09500</text>
<rect x="694" y="318" width="50" height="16" fill="#000"/>
<path d="M694 326.5h4" stroke="#fff"/>
<text x="701.5" y="330" font-size="11" fill="#fff" font-family="'Liberation Sans', sans-serif" font-weight="bold" textLength="38.5" lengthAdjust="spacingAndGlyphs">1.12000</text>
<rect x="694" y="398" width="50" height="16" fill="#ff0000"/>
<path d="M694 406.5h4" stroke="#fff"/>
<text x="701.5" y="410" font-size="11" fill="#fff" font-family="'Liberation Sans', sans-serif" font-weight="bold" textLength="38.5" lengthAdjust="spacingAndGlyphs">1.11500</text>
<rect x="694" y="457" width="50" height="16" fill="#000"/>
<path d="M694 465.5h4" stroke="#fff"/>
<text x="701.5" y="469" font-size="11" fill="#fff" font-family="'Liberation Sans', sans-serif" font-weight="bold" textLength="38.5" lengthAdjust="spacingAndGlyphs">1.11000</text>
<rect x="694" y="515" width="50" height="16" fill="#ff0000"/>
<path d="M694 523.5h4" stroke="#fff"/>
<text x="701.5" y="527" font-size="11" fill="#fff" font-family="'Liberation Sans', sans-serif" font-weight="bold" textLength="38.5" lengthAdjust="spacingAndGlyphs">1.10500</text>
<rect x="694" y="544" width="50" height="16" fill="#0000ff"/>
<path d="M694 552.5h4" stroke="#fff"/>
<text x="701.5" y="556" font-size="11" fill="#fff" font-family="'Liberation Sans', sans-serif" font-weight="bold" textLength="38.5" lengthAdjust="spacingAndGlyphs">1.10267</text>
<rect x="694" y="574" width="50" height="16" fill="#000"/>
<path d="M694 582.5h4" stroke="#fff"/>
<text x="701.5" y="586" font-size="11" fill="#fff" font-family="'Liberation Sans', sans-serif" font-weight="bold" textLength="38.5" lengthAdjust="spacingAndGlyphs">1.10000</text>
<rect x="694" y="643" width="50" height="16" fill="#ff0000"/>
<path d="M694 651.5h4" stroke="#fff"/>
<text x="701.5" y="655" font-size="11" fill="#fff" font-family="'Liberation Sans', sans-serif" font-weight="bold" textLength="38.5" lengthAdjust="spacingAndGlyphs">1.09500</text>
<rect x="694" y="694" width="50" height="16" fill="#000"/>
<path d="M694 702.5h4" stroke="#fff"/>
<text x="701.5" y="706" font-size="11" fill="#fff" font-family="'Liberation Sans', sans-serif" font-weight="bold" textLength="38.5" lengthAdjust="spacingAndGlyphs">1.09000</text>
<path d="M60.5 724v3" stroke="#555555"/>
<text x="60.5" y="738" font-size="11" fill="#555" font-family="'Liberation Sans', sans-serif" text-anchor="middle">20</text>
<path d="M137.5 724v3" stroke="#555555"/>
<text x="137.5" y="738" font-size="11" fill="#555" font-family="'Liberation Sans', sans-serif" text-anchor="middle">13:00</text>
<path d="M215.5 724v3" stroke="#555555"/>
<text x="215.5" y="738" font-size="11" fill="#555" font-family="'Liberation Sans', sans-serif" font-weight="bold" text-anchor="middle">Jul</text>
<path d="M318.5 724v3" stroke="#555555"/>
<text x="318.5" y="738" font-size="11" fill="#555" font-family="'Liberation Sans', sans-serif" text-anchor="middle">11</text>
<path d="M404.5 724v3" stroke="#555555"/>
<text x="404.5" y="738" font-size="11" fill="#555" font-family="'Liberation Sans', sans-serif" text-anchor="middle">18</text>
<path d="M490.5 724v3" stroke="#555555"/>
<text x="490.5" y="738" font-size="11" fill="#555" font-family="'Liberation Sans', sans-serif" text-anchor="middle">25</text>
<path d="M576.5 724v3" stroke="#555555"/>
<text x="576.5" y="738" font-size="11" fill="#555" font-family="'Liberation Sans', sans-serif" font-weight="bold" text-anchor="middle">Aug</text>
<path d="M662.5 724v3" stroke="#555555"/>
<text x="662.5" y="738" font-size="11" fill="#555" font-family="'Liberation Sans', sans-serif" text-anchor="middle">8</text>
<rect x="750.5" y="41.5" width="742" height="336" fill="#fff" stroke="#555555"/>
<clipPath id="cw"><rect x="751" y="42" width="691" height="316"/></clipPath>
<g clip-path="url(#cw)">
<text x="759.5" y="63" font-size="12.6" fill="#555" font-family="'Liberation Sans', sans-serif" font-weight="bold" textLength="131.5" lengthAdjust="spacingAndGlyphs">Euro Fx/U.S. Dollar, W</text>
<rect x="862.2" y="244" width="361.70000000000005" height="25.80000000000001" fill="#000"/>
<rect x="863.6" y="245.4" width="358.90000000000003" height="23.00000000000001" fill="#4a3a12"/>
<rect x="864.5" y="246.3" width="357.1" height="21.20000000000001" fill="#9c8a52"/>
<rect x="865.2" y="247.0" width="355.70000000000005" height="19.80000000000001" fill="#e4d39b"/>
<rect x="865.8000000000001" y="247.6" width="354.50000000000006" height="18.600000000000012" fill="#fff0c2"/>
<rect x="745" y="336.5" width="478.9000000000001" height="16.899999999999977" fill="#000"/>
<rect x="746.4" y="337.9" width="476.1000000000001" height="14.099999999999977" fill="#4a3a12"/>
<rect x="747.3" y="338.8" width="474.30000000000007" height="12.299999999999978" fill="#9c8a52"/>
<rect x="748.0" y="339.5" width="472.9000000000001" height="10.899999999999977" fill="#e4d39b"/>
<rect x="748.6" y="340.1" width="471.7000000000001" height="9.699999999999978" fill="#fff0c2"/>
<path d="M751 94L870 338" stroke="#999" stroke-width="2" stroke-dasharray="2 4.3" fill="none"/>
<path d="M919 311.6H1223" stroke="#0000ff" stroke-width="1.6" fill="none"/>
<path d="M919 311.6H1223" stroke="#0000ff" stroke-width="3" fill="none" stroke-opacity="0.25"/>
<path d="M751 355.3L1211 324" stroke="#0000ff" stroke-width="2.2" fill="none"/>
<path d="M752.5 60.4V72.5M756.5 68.2V78.9M760.5 77.2V83.6M764.5 78.1V86.9M768.5 80.1V86.9M772.5 81.2V96.7M776.5 97.1V105.8M780.5 102V122.9M784.5 117.9V128.7M788.5 117.1V132.7M792.5 124.9V145.7M796.5 142V160.8M800.5 135V160.8M804.5 126V149.7M808.5 130.9V150.8M812.5 137V161.8M816.5 154.1V172.7M820.5 157.2V169.8M824.5 152.1V171.9M828.5 158.1V173.6M832.5 160.2V180.7M836.5 161.1V183M840.5 155.1V185.7M844.5 181V189.7M848.5 185V205.9M852.5 207.2V226.7M856.5 215.9V252.6M860.5 233.2V282.8M864.5 269V284.8M868.5 246.2V269M872.5 254.2V269.3M876.5 254.2V267.6M880.5 259.2V277.7M884.5 271.8V308.8M888.5 302.1V340.7M892.5 290.3V341.6M896.5 289V313.8M900.5 291.2V318.4M904.5 290.3V331.8M908.5 307.1V335.7M912.5 302.1V323.9M916.5 267.6V309.6M920.5 259.2V287.8M924.5 252V281.9M928.5 254.2V294M932.5 292.8V309.6M936.5 260.1V303.8M940.5 259.2V285.8M944.5 255V276M948.5 257.1V281.9M952.5 269.3V297M956.5 273.9V300.4M960.5 276V309.8M964.5 292.2V309.9M968.5 282.1V302.5M972.5 294.2V306.5M975.5 274.9V299.8M979.5 259.9V291.7M983.5 232V279.9M987.5 264.2V285.7M991.5 262.8V282.7M995.5 253V274.7M999.5 264.2V283.7M1003.5 264.9V281.7M1007.5 258.8V277.6M1011.5 250.1V263.9M1015.5 259.1V293.8M1019.5 285V302.5M1023.5 289.1V319.7M1027.5 309.2V321.6M1031.5 315V328M1035.5 321V332.1M1039.5 294.8V335.8M1043.5 290V305.9M1047.5 288V310.6M1051.5 294.8V307.9M1055.5 294V306.8M1059.5 298.1V319M1063.5 295.1V310.6M1067.5 296V312.8M1071.5 296V312.8M1075.5 272V309.9M1079.5 260.2V285.7M1083.5 272V287.7M1087.5 283V300.9M1091.5 290V308.5M1095.5 274V308.5M1099.5 263.1V287.7M1103.5 268.2V281M1107.5 255.1V281M1111.5 253V264.9M1115.5 252.1V272.9M1119.5 258.1V274.9M1123.5 253V274.9M1127.5 236V258.8M1131.5 254.1V268.9M1135.5 263.1V277.9M1139.5 272V284.8M1143.5 261.1V284.8M1147.5 257.1V272.9M1151.5 267.6V281.7M1155.5 256.1V300.8M1159.5 279V295.8M1163.5 277V292.7M1167.5 279V291.7M1171.5 286.1V294.8" stroke="#737375" stroke-width="1" fill="none"/>
<path d="M751 63.1h3V70.5h-3ZM755 70h3V78.9h-3ZM759 78.1h3V79.5h-3ZM763 78.9h3V80.8h-3ZM767 80.1h3V81.9h-3ZM771 81.9h3V95.7h-3ZM775 99h3V105.8h-3ZM779 105h3V121.8h-3Z" fill="#ff0000" shape-rendering="crispEdges"/>
<path d="M783 119.9h3V121.3h-3Z" fill="#0000ff" shape-rendering="crispEdges"/>
<path d="M787 119.1h3V132.7h-3ZM791 130.9h3V145.7h-3ZM795 145.1h3V160.8h-3Z" fill="#ff0000" shape-rendering="crispEdges"/>
<path d="M799 149.1h3V160.8h-3ZM803 138.1h3V149.7h-3Z" fill="#0000ff" shape-rendering="crispEdges"/>
<path d="M807 139h3V146.7h-3ZM811 145.1h3V159.9h-3ZM815 159.9h3V165.8h-3Z" fill="#ff0000" shape-rendering="crispEdges"/>
<path d="M819 159.1h3V163.9h-3Z" fill="#0000ff" shape-rendering="crispEdges"/>
<path d="M823 158.1h3V171.9h-3Z" fill="#ff0000" shape-rendering="crispEdges"/>
<path d="M827 165.1h3V173.6h-3Z" fill="#0000ff" shape-rendering="crispEdges"/>
<path d="M831 164.2h3V180.7h-3Z" fill="#ff0000" shape-rendering="crispEdges"/>
<path d="M835 164.2h3V180.7h-3Z" fill="#0000ff" shape-rendering="crispEdges"/>
<path d="M839 163.1h3V185.7h-3ZM843 185h3V189.7h-3ZM847 189.1h3V205.9h-3ZM851 209.2h3V220.2h-3ZM855 218.2h3V245h-3ZM859 245h3V276.9h-3Z" fill="#ff0000" shape-rendering="crispEdges"/>
<path d="M863 269h3V281.1h-3ZM867 266h3V267.4h-3ZM871 260.1h3V267.6h-3Z" fill="#0000ff" shape-rendering="crispEdges"/>
<path d="M875 259.2h3V260.9h-3ZM879 259.2h3V277.7h-3ZM883 276.9h3V308.8h-3ZM887 308.8h3V339.9h-3Z" fill="#ff0000" shape-rendering="crispEdges"/>
<path d="M891 310h3V341.6h-3ZM895 304.1h3V308.8h-3ZM899 296.2h3V304.9h-3Z" fill="#0000ff" shape-rendering="crispEdges"/>
<path d="M903 294h3V329.8h-3Z" fill="#ff0000" shape-rendering="crispEdges"/>
<path d="M907 311.3h3V330.6h-3ZM911 304.9h3V310.8h-3ZM915 276h3V307.1h-3ZM919 275.2h3V277.7h-3ZM923 254.2h3V276.9h-3Z" fill="#0000ff" shape-rendering="crispEdges"/>
<path d="M927 254.2h3V294h-3ZM931 292.8h3V295h-3Z" fill="#ff0000" shape-rendering="crispEdges"/>
<path d="M935 284.1h3V295.7h-3ZM939 269.8h3V285.8h-3ZM943 263.1h3V276h-3Z" fill="#0000ff" shape-rendering="crispEdges"/>
<path d="M947 260.1h3V281.1h-3Z" fill="#ff0000" shape-rendering="crispEdges"/>
<path d="M951 284.1h3V294h-3ZM955 280.2h3V295.7h-3Z" fill="#0000ff" shape-rendering="crispEdges"/>
<path d="M959 284.9h3V309.8h-3Z" fill="#ff0000" shape-rendering="crispEdges"/>
<path d="M963 296.2h3V309.9h-3ZM967 294.8h3V296.2h-3Z" fill="#0000ff" shape-rendering="crispEdges"/>
<path d="M971 296.2h3V297.8h-3Z" fill="#ff0000" shape-rendering="crispEdges"/>
<path d="M974 284h3V297.8h-3ZM978 259.9h3V284h-3Z" fill="#0000ff" shape-rendering="crispEdges"/>
<path d="M982 259.9h3V279h-3ZM986 279h3V281.9h-3Z" fill="#ff0000" shape-rendering="crispEdges"/>
<path d="M990 263.9h3V279.9h-3Z" fill="#0000ff" shape-rendering="crispEdges"/>
<path d="M994 263.9h3V268.9h-3ZM998 268.9h3V277.9h-3Z" fill="#ff0000" shape-rendering="crispEdges"/>
<path d="M1002 275.2h3V277.9h-3ZM1006 262.2h3V274.9h-3Z" fill="#0000ff" shape-rendering="crispEdges"/>
<path d="M1010 262.2h3V263.9h-3ZM1014 262.2h3V293.8h-3Z" fill="#ff0000" shape-rendering="crispEdges"/>
<path d="M1018 293.8h3V295.2h-3Z" fill="#0000ff" shape-rendering="crispEdges"/>
<path d="M1022 290h3V318h-3Z" fill="#ff0000" shape-rendering="crispEdges"/>
<path d="M1026 315h3V319h-3Z" fill="#0000ff" shape-rendering="crispEdges"/>
<path d="M1030 316.9h3V326h-3ZM1034 326h3V331.4h-3Z" fill="#ff0000" shape-rendering="crispEdges"/>
<path d="M1038 305.2h3V331.1h-3ZM1042 295.1h3V305.9h-3Z" fill="#0000ff" shape-rendering="crispEdges"/>
<path d="M1046 295.1h3V306.8h-3Z" fill="#ff0000" shape-rendering="crispEdges"/>
<path d="M1050 298.1h3V307.9h-3Z" fill="#0000ff" shape-rendering="crispEdges"/>
<path d="M1054 298.1h3V306.8h-3Z" fill="#ff0000" shape-rendering="crispEdges"/>
<path d="M1058 301.2h3V305.9h-3Z" fill="#0000ff" shape-rendering="crispEdges"/>
<path d="M1062 301.2h3V302.9h-3ZM1066 301.2h3V312.8h-3Z" fill="#ff0000" shape-rendering="crispEdges"/>
<path d="M1070 309.2h3V312.8h-3ZM1074 280.1h3V309.9h-3ZM1078 272h3V281.9h-3Z" fill="#0000ff" shape-rendering="crispEdges"/>
<path d="M1082 272.9h3V283h-3ZM1086 284h3V300.9h-3Z" fill="#ff0000" shape-rendering="crispEdges"/>
<path d="M1090 293.1h3V302.9h-3ZM1094 281h3V295.8h-3ZM1098 269.8h3V283h-3Z" fill="#0000ff" shape-rendering="crispEdges"/>
<path d="M1102 270.9h3V280.1h-3Z" fill="#ff0000" shape-rendering="crispEdges"/>
<path d="M1106 259.1h3V281h-3Z" fill="#0000ff" shape-rendering="crispEdges"/>
<path d="M1110 258.1h3V259.9h-3ZM1114 257.1h3V269.8h-3ZM1118 266.9h3V274.9h-3Z" fill="#ff0000" shape-rendering="crispEdges"/>
<path d="M1122 253.8h3V274.9h-3Z" fill="#0000ff" shape-rendering="crispEdges"/>
<path d="M1126 253h3V258.8h-3ZM1130 259.1h3V268h-3ZM1134 266.2h3V274.9h-3ZM1138 274.9h3V284.8h-3Z" fill="#ff0000" shape-rendering="crispEdges"/>
<path d="M1142 262.2h3V284.8h-3Z" fill="#0000ff" shape-rendering="crispEdges"/>
<path d="M1146 263.1h3V272.9h-3Z" fill="#ff0000" shape-rendering="crispEdges"/>
<path d="M1150 268.9h3V272.9h-3Z" fill="#0000ff" shape-rendering="crispEdges"/>
<path d="M1154 264.2h3V287h-3Z" fill="#ff0000" shape-rendering="crispEdges"/>
<path d="M1158 282.1h3V293.8h-3Z" fill="#0000ff" shape-rendering="crispEdges"/>
<path d="M1162 283h3V290h-3ZM1166 290h3V291.7h-3ZM1170 289.1h3V292.2h-3Z" fill="#ff0000" shape-rendering="crispEdges"/>
<path d="M924.4 247.6L915.0 236.2L920.0 236.2L920.0 230.0L928.8 230.0L928.8 236.2L933.8 236.2Z" fill="#000" fill-opacity="0.25" transform="translate(1,1.5)"/>
<path d="M924.4 247.6L915.0 236.2L920.0 236.2L920.0 230.0L928.8 230.0L928.8 236.2L933.8 236.2Z" fill="#d9533d" stroke="#000" stroke-opacity="0.18" stroke-width="0.8"/>
<path d="M944.4 248.6L935.0 237.2L940.0 237.2L940.0 231.0L948.8 231.0L948.8 237.2L953.8 237.2Z" fill="#000" fill-opacity="0.25" transform="translate(1,1.5)"/>
<path d="M944.4 248.6L935.0 237.2L940.0 237.2L940.0 231.0L948.8 231.0L948.8 237.2L953.8 237.2Z" fill="#d9533d" stroke="#000" stroke-opacity="0.18" stroke-width="0.8"/>
<path d="M984.5 230.6L975.1 219.2L980.1 219.2L980.1 213.0L988.9 213.0L988.9 219.2L993.9 219.2Z" fill="#000" fill-opacity="0.25" transform="translate(1,1.5)"/>
<path d="M984.5 230.6L975.1 219.2L980.1 219.2L980.1 213.0L988.9 213.0L988.9 219.2L993.9 219.2Z" fill="#d9533d" stroke="#000" stroke-opacity="0.18" stroke-width="0.8"/>
<path d="M1012.4 245.6L1003.0 234.2L1008.0 234.2L1008.0 228.0L1016.8 228.0L1016.8 234.2L1021.8 234.2Z" fill="#000" fill-opacity="0.25" transform="translate(1,1.5)"/>
<path d="M1012.4 245.6L1003.0 234.2L1008.0 234.2L1008.0 228.0L1016.8 228.0L1016.8 234.2L1021.8 234.2Z" fill="#d9533d" stroke="#000" stroke-opacity="0.18" stroke-width="0.8"/>
<path d="M1079.3 255.6L1069.9 244.2L1074.9 244.2L1074.9 238.0L1083.7 238.0L1083.7 244.2L1088.7 244.2Z" fill="#000" fill-opacity="0.25" transform="translate(1,1.5)"/>
<path d="M1079.3 255.6L1069.9 244.2L1074.9 244.2L1074.9 238.0L1083.7 238.0L1083.7 244.2L1088.7 244.2Z" fill="#d9533d" stroke="#000" stroke-opacity="0.18" stroke-width="0.8"/>
<path d="M1127.5 234.4L1118.1 223.0L1123.1 223.0L1123.1 216.8L1131.9 216.8L1131.9 223.0L1136.9 223.0Z" fill="#000" fill-opacity="0.25" transform="translate(1,1.5)"/>
<path d="M1127.5 234.4L1118.1 223.0L1123.1 223.0L1123.1 216.8L1131.9 216.8L1131.9 223.0L1136.9 223.0Z" fill="#d9533d" stroke="#000" stroke-opacity="0.18" stroke-width="0.8"/>
<path d="M751 221.7H1442" stroke="#8fc31f" stroke-width="3" fill="none"/>
<path d="M751 227.4H1442" stroke="#ff0000" stroke-width="3" fill="none"/>
</g>
<rect x="1229.5" y="245.8" width="77" height="12.699999999999989" fill="#dfeaf3" stroke="#7088a6"/>
<text x="1268.0" y="256.6" font-size="9.6" fill="#222" font-family="'DejaVu Sans', 'Liberation Sans', sans-serif" text-anchor="middle" textLength="72.5" lengthAdjust="spacingAndGlyphs">1.1533-1.1278</text>
<rect x="1229.5" y="305.1" width="37" height="12.399999999999977" fill="#dfeaf3" stroke="#7088a6"/>
<text x="1248.0" y="315.6" font-size="9.6" fill="#222" font-family="'DejaVu Sans', 'Liberation Sans', sans-serif" text-anchor="middle" textLength="32.5" lengthAdjust="spacingAndGlyphs">1.0796</text>
<rect x="1229.5" y="337.9" width="77" height="12.600000000000023" fill="#dfeaf3" stroke="#7088a6"/>
<text x="1268.0" y="348.6" font-size="9.6" fill="#222" font-family="'DejaVu Sans', 'Liberation Sans', sans-serif" text-anchor="middle" textLength="72.5" lengthAdjust="spacingAndGlyphs">1.0333-1.0502</text>
<path d="M994.5 159L992.7 159.2L991 159.9L989.6 161.1L988.4 162.5L987.7 164.2L987.5 166L987.5 197.5L987.7 199.3L988.4 201L989.6 202.4L991 203.6L992.7 204.3L994.5 204.5L1027.7 204.5L1034.4 245L1042.2 204.5L1074.5 204.5L1076.3 204.3L1078 203.6L1079.4 202.4L1080.6 201L1081.3 199.3L1081.5 197.5L1081.5 166L1081.3 164.2L1080.6 162.5L1079.4 161.1L1078 159.9L1076.3 159.2L1074.5 159Z" fill="none" stroke="#ffff00" stroke-width="5" stroke-linejoin="round" stroke-opacity="0.3"/>
<path d="M994.5 159L992.7 159.2L991 159.9L989.6 161.1L988.4 162.5L987.7 164.2L987.5 166L987.5 197.5L987.7 199.3L988.4 201L989.6 202.4L991 203.6L992.7 204.3L994.5 204.5L1027.7 204.5L1034.4 245L1042.2 204.5L1074.5 204.5L1076.3 204.3L1078 203.6L1079.4 202.4L1080.6 201L1081.3 199.3L1081.5 197.5L1081.5 166L1081.3 164.2L1080.6 162.5L1079.4 161.1L1078 159.9L1076.3 159.2L1074.5 159Z" fill="#fff" stroke="#ffff00" stroke-width="3" stroke-linejoin="round"/>
<text x="999.5" y="179.5" font-size="12.5" fill="#111" font-family="'DejaVu Sans', 'Liberation Sans', sans-serif" font-weight="bold" textLength="71" lengthAdjust="spacingAndGlyphs">Resistance</text>
<text x="999.5" y="191.3" font-size="12.5" fill="#111" font-family="'DejaVu Sans', 'Liberation Sans', sans-serif" font-weight="bold" textLength="30" lengthAdjust="spacingAndGlyphs">area</text>
<path d="M1278.5 152L1276.7 152.2L1275 152.9L1273.6 154.1L1272.4 155.5L1271.7 157.2L1271.5 159L1271.5 187.9L1252.5 225L1282.9 198.5L1414 198.5L1415.8 198.3L1417.5 197.6L1418.9 196.4L1420.1 195L1420.8 193.3L1421 191.5L1421 159L1420.8 157.2L1420.1 155.5L1418.9 154.1L1417.5 152.9L1415.8 152.2L1414 152Z" fill="none" stroke="#ffff00" stroke-width="5" stroke-linejoin="round" stroke-opacity="0.3"/>
<path d="M1278.5 152L1276.7 152.2L1275 152.9L1273.6 154.1L1272.4 155.5L1271.7 157.2L1271.5 159L1271.5 187.9L1252.5 225L1282.9 198.5L1414 198.5L1415.8 198.3L1417.5 197.6L1418.9 196.4L1420.1 195L1420.8 193.3L1421 191.5L1421 159L1420.8 157.2L1420.1 155.5L1418.9 154.1L1417.5 152.9L1415.8 152.2L1414 152Z" fill="#fff" stroke="#ffff00" stroke-width="3" stroke-linejoin="round"/>
<text x="1283.7" y="172.3" font-size="12.5" fill="#111" font-family="'DejaVu Sans', 'Liberation Sans', sans-serif" font-weight="bold" textLength="126.3" lengthAdjust="spacingAndGlyphs">Broken Quasimodo</text>
<text x="1283.7" y="184.6" font-size="12.5" fill="#111" font-family="'DejaVu Sans', 'Liberation Sans', sans-serif" font-weight="bold" textLength="24.5" lengthAdjust="spacingAndGlyphs">line</text>
<path d="M1327 264.5L1325.2 264.7L1323.5 265.4L1322.1 266.6L1320.9 268L1320.2 269.7L1320 271.5L1320 288.4L1279 304.3L1326.9 298.5L1327 298.5L1389 298.5L1390.8 298.3L1392.5 297.6L1393.9 296.4L1395.1 295L1395.8 293.3L1396 291.5L1396 271.5L1395.8 269.7L1395.1 268L1393.9 266.6L1392.5 265.4L1390.8 264.7L1389 264.5Z" fill="none" stroke="#ffff00" stroke-width="5" stroke-linejoin="round" stroke-opacity="0.3"/>
<path d="M1327 264.5L1325.2 264.7L1323.5 265.4L1322.1 266.6L1320.9 268L1320.2 269.7L1320 271.5L1320 288.4L1279 304.3L1326.9 298.5L1327 298.5L1389 298.5L1390.8 298.3L1392.5 297.6L1393.9 296.4L1395.1 295L1395.8 293.3L1396 291.5L1396 271.5L1395.8 269.7L1395.1 268L1393.9 266.6L1392.5 265.4L1390.8 264.7L1389 264.5Z" fill="#fff" stroke="#ffff00" stroke-width="3" stroke-linejoin="round"/>
<text x="1332.4" y="284.8" font-size="12.5" fill="#111" font-family="'DejaVu Sans', 'Liberation Sans', sans-serif" font-weight="bold" textLength="53.5" lengthAdjust="spacingAndGlyphs">Support</text>
<path d="M1342.5 317.5L1340.7 317.7L1339 318.4L1337.6 319.6L1336.4 321L1335.7 322.7L1335.5 324.5L1335.5 326.5L1310 338.2L1335.5 341.9L1335.5 344.5L1335.7 346.3L1336.4 348L1337.6 349.4L1339 350.6L1340.7 351.3L1342.5 351.5L1406.5 351.5L1408.3 351.3L1410 350.6L1411.4 349.4L1412.6 348L1413.3 346.3L1413.5 344.5L1413.5 324.5L1413.3 322.7L1412.6 321L1411.4 319.6L1410 318.4L1408.3 317.7L1406.5 317.5Z" fill="none" stroke="#ffff00" stroke-width="5" stroke-linejoin="round" stroke-opacity="0.3"/>
<path d="M1342.5 317.5L1340.7 317.7L1339 318.4L1337.6 319.6L1336.4 321L1335.7 322.7L1335.5 324.5L1335.5 326.5L1310 338.2L1335.5 341.9L1335.5 344.5L1335.7 346.3L1336.4 348L1337.6 349.4L1339 350.6L1340.7 351.3L1342.5 351.5L1406.5 351.5L1408.3 351.3L1410 350.6L1411.4 349.4L1412.6 348L1413.3 346.3L1413.5 344.5L1413.5 324.5L1413.3 322.7L1412.6 321L1411.4 319.6L1410 318.4L1408.3 317.7L1406.5 317.5Z" fill="#fff" stroke="#ffff00" stroke-width="3" stroke-linejoin="round"/>
<text x="1346.7" y="337.4" font-size="12.5" fill="#111" font-family="'DejaVu Sans', 'Liberation Sans', sans-serif" font-weight="bold" textLength="55.5" lengthAdjust="spacingAndGlyphs">Demand</text>
<path d="M768 281L766.2 281.2L764.5 281.9L763.1 283.1L761.9 284.5L761.2 286.2L761 288L761 321L761.2 322.8L761.9 324.5L763.1 325.9L764.5 327.1L766.2 327.8L768 328L800.9 328L807.5 346L814.1 328L848 328L849.8 327.8L851.5 327.1L852.9 325.9L854.1 324.5L854.8 322.8L855 321L855 288L854.8 286.2L854.1 284.5L852.9 283.1L851.5 281.9L849.8 281.2L848 281Z" fill="none" stroke="#ffff00" stroke-width="5" stroke-linejoin="round" stroke-opacity="0.3"/>
<path d="M768 281L766.2 281.2L764.5 281.9L763.1 283.1L761.9 284.5L761.2 286.2L761 288L761 321L761.2 322.8L761.9 324.5L763.1 325.9L764.5 327.1L766.2 327.8L768 328L800.9 328L807.5 346L814.1 328L848 328L849.8 327.8L851.5 327.1L852.9 325.9L854.1 324.5L854.8 322.8L855 321L855 288L854.8 286.2L854.1 284.5L852.9 283.1L851.5 281.9L849.8 281.2L848 281Z" fill="#fff" stroke="#ffff00" stroke-width="3" stroke-linejoin="round"/>
<text x="772.7" y="301.2" font-size="12.5" fill="#111" font-family="'DejaVu Sans', 'Liberation Sans', sans-serif" font-weight="bold" textLength="70" lengthAdjust="spacingAndGlyphs">Long-term</text>
<text x="772.7" y="313.5" font-size="12.5" fill="#111" font-family="'DejaVu Sans', 'Liberation Sans', sans-serif" font-weight="bold" textLength="60.5" lengthAdjust="spacingAndGlyphs">trendline</text>
<rect x="1443" y="42" width="49" height="335" fill="#fff"/>
<rect x="751" y="359" width="741" height="18" fill="#fff"/>
<path d="M1442.5 42V358.5H751" fill="none" stroke="#555555"/>
<path d="M1443 71.5h3" stroke="#555555"/>
<text x="1449.5" y="75.5" font-size="11" fill="#555" font-family="'Liberation Sans', sans-serif" textLength="38" lengthAdjust="spacingAndGlyphs">1.35000</text>
<path d="M1443 116.5h3" stroke="#555555"/>
<text x="1449.5" y="120.5" font-size="11" fill="#555" font-family="'Liberation Sans', sans-serif" textLength="38" lengthAdjust="spacingAndGlyphs">1.30000</text>
<path d="M1443 160.5h3" stroke="#555555"/>
<text x="1449.5" y="164.5" font-size="11" fill="#555" font-family="'Liberation Sans', sans-serif" textLength="38" lengthAdjust="spacingAndGlyphs">1.25000</text>
<path d="M1443 205.5h3" stroke="#555555"/>
<text x="1449.5" y="209.5" font-size="11" fill="#555" font-family="'Liberation Sans', sans-serif" textLength="38" lengthAdjust="spacingAndGlyphs">1.20000</text>
<path d="M1443 249.5h3" stroke="#555555"/>
<text x="1449.5" y="253.5" font-size="11" fill="#555" font-family="'Liberation Sans', sans-serif" textLength="38" lengthAdjust="spacingAndGlyphs">1.15000</text>
<path d="M1443 338.5h3" stroke="#555555"/>
<text x="1449.5" y="342.5" font-size="11" fill="#555" font-family="'Liberation Sans', sans-serif" textLength="38" lengthAdjust="spacingAndGlyphs">1.05000</text>
<rect x="1442" y="220" width="50" height="16" fill="#ff0000"/>
<path d="M1442 228.5h4" stroke="#fff"/>
<text x="1449.5" y="232" font-size="11" fill="#fff" font-family="'Liberation Sans', sans-serif" font-weight="bold" textLength="38.5" lengthAdjust="spacingAndGlyphs">1.17456</text>
<rect x="1442" y="283" width="50" height="16" fill="#ff0000"/>
<path d="M1442 291.5h4" stroke="#fff"/>
<text x="1449.5" y="295" font-size="11" fill="#fff" font-family="'Liberation Sans', sans-serif" font-weight="bold" textLength="38.5" lengthAdjust="spacingAndGlyphs">1.10267</text>
<path d="M852.5 359v3" stroke="#555555"/>
<text x="852.5" y="373" font-size="11" fill="#555" font-family="'Liberation Sans', sans-serif" font-weight="bold" text-anchor="middle">2015</text>
<path d="M936.5 359v3" stroke="#555555"/>
<text x="936.5" y="373" font-size="11" fill="#555" font-family="'Liberation Sans', sans-serif" text-anchor="middle">Jun</text>
<path d="M1059.5 359v3" stroke="#555555"/>
<text x="1059.5" y="373" font-size="11" fill="#555" font-family="'Liberation Sans', sans-serif" font-weight="bold" text-anchor="middle">2016</text>
<path d="M1147.5 359v3" stroke="#555555"/>
<text x="1147.5" y="373" font-size="11" fill="#555" font-family="'Liberation Sans', sans-serif" text-anchor="middle">Jun</text>
<path d="M1267.5 359v3" stroke="#555555"/>
<text x="1267.5" y="373" font-size="11" fill="#555" font-family="'Liberation Sans', sans-serif" font-weight="bold" text-anchor="middle">2017</text>
<path d="M1355.5 359v3" stroke="#555555"/>
<text x="1355.5" y="373" font-size="11" fill="#555" font-family="'Liberation Sans', sans-serif" text-anchor="middle">Jun</text>
<path d="M1430.5 359v3" stroke="#555555"/>
<text x="1430.5" y="373" font-size="11" fill="#555" font-family="'Liberation Sans', sans-serif" text-anchor="middle">16</text>
<rect x="750.5" y="405.5" width="742" height="337" fill="#fff" stroke="#555555"/>
<clipPath id="cd"><rect x="751" y="406" width="691" height="317"/></clipPath>
<g clip-path="url(#cd)">
<rect x="932.2" y="482.4" width="276.5" height="31.300000000000068" fill="#000"/>
<rect x="933.6" y="483.79999999999995" width="273.7" height="28.500000000000068" fill="#4a3a12"/>
<rect x="934.5" y="484.7" width="271.9" height="26.700000000000067" fill="#9c8a52"/>
<rect x="935.2" y="485.4" width="270.5" height="25.300000000000068" fill="#e4d39b"/>
<rect x="935.8000000000001" y="486.0" width="269.3" height="24.10000000000007" fill="#fff0c2"/>
<rect x="745" y="561.1" width="463.70000000000005" height="45.89999999999998" fill="#000"/>
<rect x="746.4" y="562.5" width="460.90000000000003" height="43.09999999999998" fill="#4a3a12"/>
<rect x="747.3" y="563.4" width="459.1" height="41.299999999999976" fill="#9c8a52"/>
<rect x="748.0" y="564.1" width="457.70000000000005" height="39.89999999999998" fill="#e4d39b"/>
<rect x="748.6" y="564.7" width="456.50000000000006" height="38.699999999999974" fill="#fff0c2"/>
<path d="M751 422.3H1442" stroke="#ff0000" stroke-width="3" fill="none"/>
<text x="759.5" y="427" font-size="12.6" fill="#555" font-family="'Liberation Sans', sans-serif" font-weight="bold" textLength="127.3" lengthAdjust="spacingAndGlyphs" fill-opacity="0.85">Euro Fx/U.S. Dollar, D</text>
<path d="M751 704.5H1442" stroke="#0000ff" stroke-width="3" fill="none"/>
<path d="M752.5 681V701.3M756.5 685V704.3M760.5 652.2V694.8M764.5 626.9V676.6M767.5 632.9V663.8M771.5 622.2V644.4M775.5 630.2V661.8M778.5 563.8V705.5M782.5 568.1V613.4M786.5 579.9V614.5M789.5 598V616.8M793.5 556V621.5M797.5 519.8V569.8M801.5 522V551M804.5 540.9V558.7M808.5 550.1V574.5M812.5 563.1V585.9M815.5 576.1V590.6M819.5 577.9V588M823.5 563.8V586.9M826.5 534.2V581.9M830.5 512.1V541.6M834.5 496.2V531.5M838.5 486.2V522.4M841.5 494.9V514.4M845.5 498.3V522.4M849.5 489.1V525.5M852.5 481.2V521.5M856.5 493.1V517.7M860.5 483.1V509.7M863.5 477.2V518.7M867.5 503V546.6M871.5 536.9V558.7M875.5 530.2V554.6M878.5 524.1V545.2M882.5 505V532.8M886.5 504V538M889.5 500V546.6M893.5 532.2V565.8M897.5 542.9V565.8M900.5 522V551M904.5 514V545.6M908.5 511V536.6M912.5 479.2V518.7M915.5 451.2V482.8M919.5 430.1V466.7M923.5 453.9V475.8M926.5 467.1V504.6M930.5 472V505M934.5 492.9V508.1M937.5 496.2V514.8M941.5 483V512.1M945.5 489.9V510.1M949.5 507V541.9M952.5 520V534.9M956.5 518V534.9M960.5 530.1V566.6M963.5 561.4V577.8M967.5 558V572.5M971.5 556V575.8M974.5 562.1V594.9M978.5 583.2V596.7M982.5 565.1V588.6M986.5 571.1V604.1M989.5 591V607.4M993.5 580.9V599.1M997.5 573.1V602M1000.5 564V589.9M1004.5 509V594M1008.5 502.9V526.9M1011.5 507V522.2M1015.5 495.9V517M1019.5 493.9V533.8M1023.5 528.1V556M1026.5 534.9V559.8M1030.5 535.9V574.9M1034.5 535.9V574.9M1037.5 536.8V594.4M1041.5 536.8V563.7M1045.5 506V534.9M1049.5 518V556.7M1052.5 522.2V558M1056.5 491.9V539M1060.5 489.9V673.5M1063.5 613V653.1M1067.5 603V639M1071.5 596V624.9M1074.5 587.9V634M1078.5 581.9V616.8M1082.5 585.9V608.1M1086.5 575.8V619.9M1089.5 603V632M1093.5 604.1V624M1097.5 600V642M1100.5 616.2V637M1104.5 598V624M1108.5 600V628M1111.5 583.9V611.5M1115.5 589.9V634M1119.5 613.1V628.9M1123.5 614.1V643M1126.5 632V649.1M1130.5 620.9V650M1134.5 632V635.6" stroke="#737375" stroke-width="1" fill="none"/>
<path d="M751 688h3V691h-3Z" fill="#ff0000" shape-rendering="crispEdges"/>
<path d="M755 689.8h3V691.2h-3ZM759 658.1h3V691h-3ZM763 642.1h3V658.7h-3ZM766 638h3V647.7h-3Z" fill="#0000ff" shape-rendering="crispEdges"/>
<path d="M770 638.3h3V639.7h-3ZM774 639h3V646.8h-3Z" fill="#ff0000" shape-rendering="crispEdges"/>
<path d="M777 579.2h3V646.8h-3Z" fill="#0000ff" shape-rendering="crispEdges"/>
<path d="M781 579.2h3V591.7h-3ZM785 594h3V608.8h-3Z" fill="#ff0000" shape-rendering="crispEdges"/>
<path d="M788 604.1h3V608.8h-3ZM792 563.1h3V604.8h-3ZM796 529.9h3V563.8h-3Z" fill="#0000ff" shape-rendering="crispEdges"/>
<path d="M800 529.9h3V547.9h-3ZM803 551h3V558h-3ZM807 557h3V565.8h-3ZM811 564.8h3V579.9h-3ZM814 579.2h3V581.9h-3ZM818 581.2h3V586.9h-3Z" fill="#ff0000" shape-rendering="crispEdges"/>
<path d="M822 573.2h3V586.9h-3ZM825 540.2h3V573.8h-3ZM829 523h3V540.9h-3ZM833 508.1h3V523.8h-3ZM837 503h3V509h-3Z" fill="#0000ff" shape-rendering="crispEdges"/>
<path d="M840 500h3V505.6h-3ZM844 505.2h3V507.4h-3Z" fill="#ff0000" shape-rendering="crispEdges"/>
<path d="M848 500.9h3V507.7h-3Z" fill="#0000ff" shape-rendering="crispEdges"/>
<path d="M851 500.9h3V509h-3Z" fill="#ff0000" shape-rendering="crispEdges"/>
<path d="M855 501.9h3V508.6h-3Z" fill="#0000ff" shape-rendering="crispEdges"/>
<path d="M859 494.9h3V499.6h-3ZM862 498.9h3V507h-3ZM866 506h3V546.6h-3ZM870 546h3V549h-3Z" fill="#ff0000" shape-rendering="crispEdges"/>
<path d="M874 545.2h3V549h-3ZM877 532.2h3V535.8h-3ZM881 515.1h3V532.8h-3Z" fill="#0000ff" shape-rendering="crispEdges"/>
<path d="M885 515.1h3V538h-3ZM888 537.3h3V540.6h-3ZM892 540.2h3V565.8h-3Z" fill="#ff0000" shape-rendering="crispEdges"/>
<path d="M896 548h3V565.8h-3ZM899 537.3h3V549h-3ZM903 529.1h3V538h-3ZM907 518.1h3V529.9h-3ZM911 483.9h3V518.7h-3ZM914 453.9h3V480.8h-3Z" fill="#0000ff" shape-rendering="crispEdges"/>
<path d="M918 453.9h3V466.7h-3ZM922 466h3V469.8h-3ZM925 469.1h3V499.9h-3ZM929 498.9h3V500.9h-3ZM933 503h3V508.1h-3ZM936 507h3V512.1h-3Z" fill="#ff0000" shape-rendering="crispEdges"/>
<path d="M940 490.9h3V512.1h-3Z" fill="#0000ff" shape-rendering="crispEdges"/>
<path d="M944 490.9h3V510.1h-3ZM948 509h3V535.9h-3Z" fill="#ff0000" shape-rendering="crispEdges"/>
<path d="M951 529.1h3V532.9h-3Z" fill="#0000ff" shape-rendering="crispEdges"/>
<path d="M955 529.1h3V532.9h-3ZM959 531.8h3V566.6h-3ZM962 566.1h3V570.9h-3Z" fill="#ff0000" shape-rendering="crispEdges"/>
<path d="M966 565.1h3V570.9h-3ZM970 564.1h3V569.8h-3Z" fill="#0000ff" shape-rendering="crispEdges"/>
<path d="M973 564.1h3V594h-3Z" fill="#ff0000" shape-rendering="crispEdges"/>
<path d="M977 587.9h3V594h-3ZM981 573.8h3V588.6h-3Z" fill="#0000ff" shape-rendering="crispEdges"/>
<path d="M985 573.8h3V604.1h-3Z" fill="#ff0000" shape-rendering="crispEdges"/>
<path d="M988 594h3V604.1h-3Z" fill="#0000ff" shape-rendering="crispEdges"/>
<path d="M992 594h3V596.9h-3Z" fill="#ff0000" shape-rendering="crispEdges"/>
<path d="M996 575.8h3V596.9h-3Z" fill="#0000ff" shape-rendering="crispEdges"/>
<path d="M999 575.8h3V589.9h-3Z" fill="#ff0000" shape-rendering="crispEdges"/>
<path d="M1003 513.7h3V589.9h-3ZM1007 517h3V518.4h-3ZM1010 516.1h3V517.7h-3ZM1014 504h3V517h-3Z" fill="#0000ff" shape-rendering="crispEdges"/>
<path d="M1018 504h3V532.1h-3ZM1022 531.2h3V556h-3Z" fill="#ff0000" shape-rendering="crispEdges"/>
<path d="M1025 539.2h3V556h-3Z" fill="#0000ff" shape-rendering="crispEdges"/>
<path d="M1029 539.2h3V570.9h-3Z" fill="#ff0000" shape-rendering="crispEdges"/>
<path d="M1033 550h3V570.9h-3Z" fill="#0000ff" shape-rendering="crispEdges"/>
<path d="M1036 550h3V563.7h-3Z" fill="#ff0000" shape-rendering="crispEdges"/>
<path d="M1040 545h3V563.7h-3Z" fill="#0000ff" shape-rendering="crispEdges"/>
<path d="M1044 524.2h3V531.8h-3ZM1048 531.2h3V556.7h-3Z" fill="#ff0000" shape-rendering="crispEdges"/>
<path d="M1051 538.1h3V556.7h-3ZM1055 504.9h3V539h-3Z" fill="#0000ff" shape-rendering="crispEdges"/>
<path d="M1059 504.9h3V613.7h-3Z" fill="#ff0000" shape-rendering="crispEdges"/>
<path d="M1062 634h3V639.9h-3ZM1066 619.9h3V635h-3ZM1070 599.1h3V620.9h-3Z" fill="#0000ff" shape-rendering="crispEdges"/>
<path d="M1073 599.1h3V606.1h-3Z" fill="#ff0000" shape-rendering="crispEdges"/>
<path d="M1077 594h3V606.1h-3ZM1081 587.9h3V599.1h-3Z" fill="#0000ff" shape-rendering="crispEdges"/>
<path d="M1085 587.9h3V616.8h-3Z" fill="#ff0000" shape-rendering="crispEdges"/>
<path d="M1088 607.2h3V616.8h-3Z" fill="#0000ff" shape-rendering="crispEdges"/>
<path d="M1092 607.2h3V621.8h-3ZM1096 620.9h3V626.9h-3Z" fill="#ff0000" shape-rendering="crispEdges"/>
<path d="M1099 621.8h3V626.9h-3ZM1103 620.9h3V622.9h-3ZM1107 611.2h3V621.8h-3ZM1110 601.1h3V611.5h-3Z" fill="#0000ff" shape-rendering="crispEdges"/>
<path d="M1114 601.1h3V633h-3Z" fill="#ff0000" shape-rendering="crispEdges"/>
<path d="M1118 616.2h3V625.8h-3Z" fill="#0000ff" shape-rendering="crispEdges"/>
<path d="M1122 616.2h3V637h-3ZM1125 636h3V639h-3Z" fill="#ff0000" shape-rendering="crispEdges"/>
<path d="M1129 634h3V639h-3ZM1133 633h3V635h-3Z" fill="#0000ff" shape-rendering="crispEdges"/>
<path d="M778.5 563.6L769.1 552.2L774.1 552.2L774.1 546.0L782.9 546.0L782.9 552.2L787.9 552.2Z" fill="#000" fill-opacity="0.25" transform="translate(1,1.5)"/>
<path d="M778.5 563.6L769.1 552.2L774.1 552.2L774.1 546.0L782.9 546.0L782.9 552.2L787.9 552.2Z" fill="#d9503c" stroke="#000" stroke-opacity="0.18" stroke-width="0.8"/>
<path d="M1086.5 575.6L1077.1 564.2L1082.1 564.2L1082.1 558.0L1090.9 558.0L1090.9 564.2L1095.9 564.2Z" fill="#000" fill-opacity="0.25" transform="translate(1,1.5)"/>
<path d="M1086.5 575.6L1077.1 564.2L1082.1 564.2L1082.1 558.0L1090.9 558.0L1090.9 564.2L1095.9 564.2Z" fill="#d9503c" stroke="#000" stroke-opacity="0.18" stroke-width="0.8"/>
<path d="M819.2 590.8L809.8 602.2L814.8 602.2L814.8 608.4L823.6 608.4L823.6 602.2L828.6 602.2Z" fill="#000" fill-opacity="0.25" transform="translate(1,1.5)"/>
<path d="M819.2 590.8L809.8 602.2L814.8 602.2L814.8 608.4L823.6 608.4L823.6 602.2L828.6 602.2Z" fill="#2e8b57" stroke="#000" stroke-opacity="0.18" stroke-width="0.8"/>
<path d="M897.4 570L888.0 581.4L893.0 581.4L893.0 587.6L901.8 587.6L901.8 581.4L906.8 581.4Z" fill="#000" fill-opacity="0.25" transform="translate(1,1.5)"/>
<path d="M897.4 570L888.0 581.4L893.0 581.4L893.0 587.6L901.8 587.6L901.8 581.4L906.8 581.4Z" fill="#2e8b57" stroke="#000" stroke-opacity="0.18" stroke-width="0.8"/>
<path d="M989.5 611L980.1 622.4L985.1 622.4L985.1 628.6L993.9 628.6L993.9 622.4L998.9 622.4Z" fill="#000" fill-opacity="0.25" transform="translate(1,1.5)"/>
<path d="M989.5 611L980.1 622.4L985.1 622.4L985.1 628.6L993.9 628.6L993.9 622.4L998.9 622.4Z" fill="#2e8b57" stroke="#000" stroke-opacity="0.18" stroke-width="0.8"/>
<path d="M1037.4 594.5L1028.0 605.9L1033.0 605.9L1033.0 612.1L1041.8 612.1L1041.8 605.9L1046.8 605.9Z" fill="#000" fill-opacity="0.25" transform="translate(1,1.5)"/>
<path d="M1037.4 594.5L1028.0 605.9L1033.0 605.9L1033.0 612.1L1041.8 612.1L1041.8 605.9L1046.8 605.9Z" fill="#2e8b57" stroke="#000" stroke-opacity="0.18" stroke-width="0.8"/>
</g>
<rect x="1213.5" y="487.7" width="77.5" height="12.800000000000011" fill="#dfeaf3" stroke="#7088a6"/>
<text x="1252.25" y="498.6" font-size="9.6" fill="#222" font-family="'DejaVu Sans', 'Liberation Sans', sans-serif" text-anchor="middle" textLength="73.0" lengthAdjust="spacingAndGlyphs">1.1446-1.1369</text>
<rect x="1213.5" y="563.5" width="77.5" height="13" fill="#dfeaf3" stroke="#7088a6"/>
<text x="1252.25" y="574.6" font-size="9.6" fill="#222" font-family="'DejaVu Sans', 'Liberation Sans', sans-serif" text-anchor="middle" textLength="73.0" lengthAdjust="spacingAndGlyphs">1.1224-1.1104</text>
<path d="M1316.9 429.5L1276 425.8L1304 439.5L1304 456L1304.2 457.8L1304.9 459.5L1306.1 460.9L1307.5 462.1L1309.2 462.8L1311 463L1391 463L1392.8 462.8L1394.5 462.1L1395.9 460.9L1397.1 459.5L1397.8 457.8L1398 456L1398 436.5L1397.8 434.7L1397.1 433L1395.9 431.6L1394.5 430.4L1392.8 429.7L1391 429.5Z" fill="none" stroke="#ffff00" stroke-width="5" stroke-linejoin="round" stroke-opacity="0.3"/>
<path d="M1316.9 429.5L1276 425.8L1304 439.5L1304 456L1304.2 457.8L1304.9 459.5L1306.1 460.9L1307.5 462.1L1309.2 462.8L1311 463L1391 463L1392.8 462.8L1394.5 462.1L1395.9 460.9L1397.1 459.5L1397.8 457.8L1398 456L1398 436.5L1397.8 434.7L1397.1 433L1395.9 431.6L1394.5 430.4L1392.8 429.7L1391 429.5Z" fill="#fff" stroke="#ffff00" stroke-width="3" stroke-linejoin="round"/>
<text x="1315.8" y="449.8" font-size="12.5" fill="#111" font-family="'DejaVu Sans', 'Liberation Sans', sans-serif" font-weight="bold" textLength="71" lengthAdjust="spacingAndGlyphs">Resistance</text>
<path d="M1343.5 476.5L1341.7 476.7L1340 477.4L1338.6 478.6L1337.4 480L1336.7 481.7L1336.5 483.5L1336.5 485.2L1297.5 491.1L1336.5 499.8L1336.5 502.5L1336.7 504.3L1337.4 506L1338.6 507.4L1340 508.6L1341.7 509.3L1343.5 509.5L1397 509.5L1398.8 509.3L1400.5 508.6L1401.9 507.4L1403.1 506L1403.8 504.3L1404 502.5L1404 483.5L1403.8 481.7L1403.1 480L1401.9 478.6L1400.5 477.4L1398.8 476.7L1397 476.5Z" fill="none" stroke="#ffff00" stroke-width="5" stroke-linejoin="round" stroke-opacity="0.3"/>
<path d="M1343.5 476.5L1341.7 476.7L1340 477.4L1338.6 478.6L1337.4 480L1336.7 481.7L1336.5 483.5L1336.5 485.2L1297.5 491.1L1336.5 499.8L1336.5 502.5L1336.7 504.3L1337.4 506L1338.6 507.4L1340 508.6L1341.7 509.3L1343.5 509.5L1397 509.5L1398.8 509.3L1400.5 508.6L1401.9 507.4L1403.1 506L1403.8 504.3L1404 502.5L1404 483.5L1403.8 481.7L1403.1 480L1401.9 478.6L1400.5 477.4L1398.8 476.7L1397 476.5Z" fill="#fff" stroke="#ffff00" stroke-width="3" stroke-linejoin="round"/>
<text x="1347.2" y="497" font-size="12.5" fill="#111" font-family="'DejaVu Sans', 'Liberation Sans', sans-serif" font-weight="bold" textLength="45.5" lengthAdjust="spacingAndGlyphs">Supply</text>
<path d="M1317.5 524L1315.7 524.2L1314 524.9L1312.6 526.1L1311.4 527.5L1310.7 529.2L1310.5 531L1310.5 532.5L1291.5 561.5L1310.5 550.5L1310.5 551.5L1310.7 553.3L1311.4 555L1312.6 556.4L1314 557.6L1315.7 558.3L1317.5 558.5L1431.5 558.5L1433.3 558.3L1435 557.6L1436.4 556.4L1437.6 555L1438.3 553.3L1438.5 551.5L1438.5 531L1438.3 529.2L1437.6 527.5L1436.4 526.1L1435 524.9L1433.3 524.2L1431.5 524Z" fill="none" stroke="#ffff00" stroke-width="5" stroke-linejoin="round" stroke-opacity="0.3"/>
<path d="M1317.5 524L1315.7 524.2L1314 524.9L1312.6 526.1L1311.4 527.5L1310.7 529.2L1310.5 531L1310.5 532.5L1291.5 561.5L1310.5 550.5L1310.5 551.5L1310.7 553.3L1311.4 555L1312.6 556.4L1314 557.6L1315.7 558.3L1317.5 558.5L1431.5 558.5L1433.3 558.3L1435 557.6L1436.4 556.4L1437.6 555L1438.3 553.3L1438.5 551.5L1438.5 531L1438.3 529.2L1437.6 527.5L1436.4 526.1L1435 524.9L1433.3 524.2L1431.5 524Z" fill="#fff" stroke="#ffff00" stroke-width="3" stroke-linejoin="round"/>
<text x="1321.7" y="544.8" font-size="12.5" fill="#111" font-family="'DejaVu Sans', 'Liberation Sans', sans-serif" font-weight="bold" textLength="104.6" lengthAdjust="spacingAndGlyphs">Resistance area</text>
<path d="M1339.5 661L1337.7 661.2L1336 661.9L1334.6 663.1L1333.4 664.5L1332.7 666.2L1332.5 668L1332.5 687.1L1327 704L1340.4 695.5L1401 695.5L1402.8 695.3L1404.5 694.6L1405.9 693.4L1407.1 692L1407.8 690.3L1408 688.5L1408 668L1407.8 666.2L1407.1 664.5L1405.9 663.1L1404.5 661.9L1402.8 661.2L1401 661Z" fill="none" stroke="#ffff00" stroke-width="5" stroke-linejoin="round" stroke-opacity="0.3"/>
<path d="M1339.5 661L1337.7 661.2L1336 661.9L1334.6 663.1L1333.4 664.5L1332.7 666.2L1332.5 668L1332.5 687.1L1327 704L1340.4 695.5L1401 695.5L1402.8 695.3L1404.5 694.6L1405.9 693.4L1407.1 692L1407.8 690.3L1408 688.5L1408 668L1407.8 666.2L1407.1 664.5L1405.9 663.1L1404.5 661.9L1402.8 661.2L1401 661Z" fill="#fff" stroke="#ffff00" stroke-width="3" stroke-linejoin="round"/>
<text x="1344.4" y="681.5" font-size="12.5" fill="#111" font-family="'DejaVu Sans', 'Liberation Sans', sans-serif" font-weight="bold" textLength="53.5" lengthAdjust="spacingAndGlyphs">Support</text>
<rect x="1443" y="406" width="49" height="336" fill="#fff"/>
<rect x="751" y="724" width="741" height="18" fill="#fff"/>
<path d="M1442.5 406V723.5H751" fill="none" stroke="#555555"/>
<path d="M1443 428.5h3" stroke="#555555"/>
<text x="1449.5" y="432.5" font-size="11" fill="#555" font-family="'Liberation Sans', sans-serif" textLength="38" lengthAdjust="spacingAndGlyphs">1.16000</text>
<path d="M1443 464.5h3" stroke="#555555"/>
<text x="1449.5" y="468.5" font-size="11" fill="#555" font-family="'Liberation Sans', sans-serif" textLength="38" lengthAdjust="spacingAndGlyphs">1.15000</text>
<path d="M1443 499.5h3" stroke="#555555"/>
<text x="1449.5" y="503.5" font-size="11" fill="#555" font-family="'Liberation Sans', sans-serif" textLength="38" lengthAdjust="spacingAndGlyphs">1.14000</text>
<path d="M1443 535.5h3" stroke="#555555"/>
<text x="1449.5" y="539.5" font-size="11" fill="#555" font-family="'Liberation Sans', sans-serif" textLength="38" lengthAdjust="spacingAndGlyphs">1.13000</text>
<path d="M1443 571.5h3" stroke="#555555"/>
<text x="1449.5" y="575.5" font-size="11" fill="#555" font-family="'Liberation Sans', sans-serif" textLength="38" lengthAdjust="spacingAndGlyphs">1.12000</text>
<path d="M1443 606.5h3" stroke="#555555"/>
<text x="1449.5" y="610.5" font-size="11" fill="#555" font-family="'Liberation Sans', sans-serif" textLength="38" lengthAdjust="spacingAndGlyphs">1.11000</text>
<path d="M1443 642.5h3" stroke="#555555"/>
<text x="1449.5" y="646.5" font-size="11" fill="#555" font-family="'Liberation Sans', sans-serif" textLength="38" lengthAdjust="spacingAndGlyphs">1.10000</text>
<path d="M1443 678.5h3" stroke="#555555"/>
<text x="1449.5" y="682.5" font-size="11" fill="#555" font-family="'Liberation Sans', sans-serif" textLength="38" lengthAdjust="spacingAndGlyphs">1.09000</text>
<path d="M1443 714.5h3" stroke="#555555"/>
<text x="1449.5" y="718.5" font-size="11" fill="#555" font-family="'Liberation Sans', sans-serif" textLength="38" lengthAdjust="spacingAndGlyphs">1.08000</text>
<rect x="1442" y="415" width="50" height="16" fill="#ff0000"/>
<path d="M1442 423.5h4" stroke="#fff"/>
<text x="1449.5" y="427" font-size="11" fill="#fff" font-family="'Liberation Sans', sans-serif" font-weight="bold" textLength="38.5" lengthAdjust="spacingAndGlyphs">1.16150</text>
<rect x="1442" y="625" width="50" height="16" fill="#0000ff"/>
<path d="M1442 633.5h4" stroke="#fff"/>
<text x="1449.5" y="637" font-size="11" fill="#fff" font-family="'Liberation Sans', sans-serif" font-weight="bold" textLength="38.5" lengthAdjust="spacingAndGlyphs">1.10267</text>
<rect x="1442" y="697" width="50" height="16" fill="#0000ff"/>
<path d="M1442 705.5h4" stroke="#fff"/>
<text x="1449.5" y="709" font-size="11" fill="#fff" font-family="'Liberation Sans', sans-serif" font-weight="bold" textLength="38.5" lengthAdjust="spacingAndGlyphs">1.08240</text>
<clipPath id="ct"><rect x="751" y="724" width="691" height="18"/></clipPath><g clip-path="url(#ct)">
<path d="M752.5 724v3" stroke="#555555"/>
<text x="752.5" y="738" font-size="11" fill="#555" font-family="'Liberation Sans', sans-serif" font-weight="bold" text-anchor="middle">Mar</text>
<path d="M838.5 724v3" stroke="#555555"/>
<text x="838.5" y="738" font-size="11" fill="#555" font-family="'Liberation Sans', sans-serif" font-weight="bold" text-anchor="middle">Apr</text>
<path d="M915.5 724v3" stroke="#555555"/>
<text x="915.5" y="738" font-size="11" fill="#555" font-family="'Liberation Sans', sans-serif" font-weight="bold" text-anchor="middle">May</text>
<path d="M997.5 724v3" stroke="#555555"/>
<text x="997.5" y="738" font-size="11" fill="#555" font-family="'Liberation Sans', sans-serif" font-weight="bold" text-anchor="middle">Jun</text>
<path d="M1078.5 724v3" stroke="#555555"/>
<text x="1078.5" y="738" font-size="11" fill="#555" font-family="'Liberation Sans', sans-serif" font-weight="bold" text-anchor="middle">Jul</text>
<path d="M1156.5 724v3" stroke="#555555"/>
<text x="1156.5" y="738" font-size="11" fill="#555" font-family="'Liberation Sans', sans-serif" font-weight="bold" text-anchor="middle">Aug</text>
<path d="M1241.5 724v3" stroke="#555555"/>
<text x="1241.5" y="738" font-size="11" fill="#555" font-family="'Liberation Sans', sans-serif" font-weight="bold" text-anchor="middle">Sep</text>
<path d="M1322.5 724v3" stroke="#555555"/>
<text x="1322.5" y="738" font-size="11" fill="#555" font-family="'Liberation Sans', sans-serif" font-weight="bold" text-anchor="middle">Oct</text>
<path d="M1400.5 724v3" stroke="#555555"/>
<text x="1400.5" y="738" font-size="11" fill="#555" font-family="'Liberation Sans', sans-serif" font-weight="bold" text-anchor="middle">Nov</text>
</g>
<rect x="2.5" y="41.5" width="742" height="701" fill="none" stroke="#555555"/>
<rect x="750.5" y="41.5" width="742" height="336" fill="none" stroke="#555555"/>
<rect x="750.5" y="405.5" width="742" height="337" fill="none" stroke="#555555"/>
</svg>
</body></html>
